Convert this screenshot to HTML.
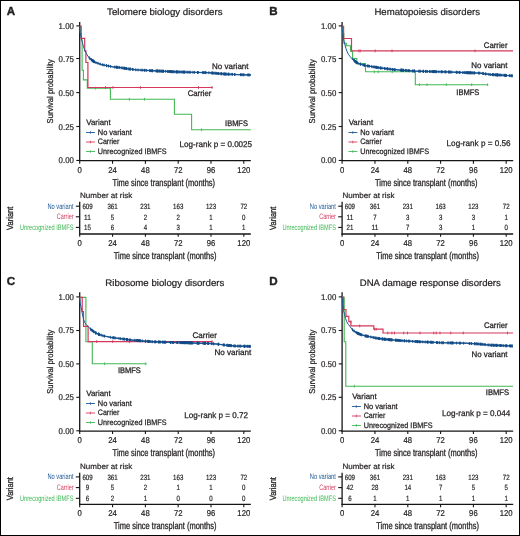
<!DOCTYPE html>
<html><head><meta charset="utf-8"><style>
html,body{margin:0;padding:0;background:#fff;}
svg{will-change:transform;}
text{text-rendering:geometricPrecision;}
svg{display:block;}
text{font-family:"Liberation Sans", sans-serif;}
</style></head><body>
<svg width="520" height="536" viewBox="0 0 520 536" fill="#231f20">
<rect x="0.5" y="0.5" width="519" height="535" fill="#fff" stroke="#000" stroke-width="1"/>
<g transform="translate(0,0)">
<text x="6.80" y="14.90" font-size="11.6" font-weight="bold" stroke="#231f20" stroke-width="0.4">A</text>
<text x="164.80" y="15.30" font-size="9.4" text-anchor="middle" textLength="115.5" lengthAdjust="spacingAndGlyphs" stroke="#231f20" stroke-width="0.22">Telomere biology disorders</text>
<line x1="79.70" y1="21.90" x2="79.70" y2="161.00" stroke="#151515" stroke-width="1.3"/>
<line x1="76.30" y1="25.90" x2="79.70" y2="25.90" stroke="#151515" stroke-width="1.1"/>
<text x="73.90" y="28.90" font-size="8.4" text-anchor="end" textLength="15.3" lengthAdjust="spacingAndGlyphs" stroke="#231f20" stroke-width="0.2">1.00</text>
<line x1="76.30" y1="58.50" x2="79.70" y2="58.50" stroke="#151515" stroke-width="1.1"/>
<text x="73.90" y="61.50" font-size="8.4" text-anchor="end" textLength="15.3" lengthAdjust="spacingAndGlyphs" stroke="#231f20" stroke-width="0.2">0.75</text>
<line x1="76.30" y1="92.60" x2="79.70" y2="92.60" stroke="#151515" stroke-width="1.1"/>
<text x="73.90" y="95.60" font-size="8.4" text-anchor="end" textLength="15.3" lengthAdjust="spacingAndGlyphs" stroke="#231f20" stroke-width="0.2">0.50</text>
<line x1="76.30" y1="126.50" x2="79.70" y2="126.50" stroke="#151515" stroke-width="1.1"/>
<text x="73.90" y="129.50" font-size="8.4" text-anchor="end" textLength="15.3" lengthAdjust="spacingAndGlyphs" stroke="#231f20" stroke-width="0.2">0.25</text>
<line x1="76.30" y1="160.45" x2="79.70" y2="160.45" stroke="#151515" stroke-width="1.1"/>
<text x="73.90" y="163.45" font-size="8.4" text-anchor="end" textLength="15.3" lengthAdjust="spacingAndGlyphs" stroke="#231f20" stroke-width="0.2">0.00</text>
<line x1="79.10" y1="160.60" x2="250.80" y2="160.60" stroke="#151515" stroke-width="1.25"/>
<line x1="79.70" y1="160.60" x2="79.70" y2="163.70" stroke="#151515" stroke-width="1.1"/>
<text x="79.70" y="172.90" font-size="8.5" text-anchor="middle" textLength="4.3" lengthAdjust="spacingAndGlyphs" stroke="#231f20" stroke-width="0.22">0</text>
<line x1="112.55" y1="160.60" x2="112.55" y2="163.70" stroke="#151515" stroke-width="1.1"/>
<text x="112.55" y="172.90" font-size="8.5" text-anchor="middle" textLength="8.6" lengthAdjust="spacingAndGlyphs" stroke="#231f20" stroke-width="0.22">24</text>
<line x1="145.40" y1="160.60" x2="145.40" y2="163.70" stroke="#151515" stroke-width="1.1"/>
<text x="145.40" y="172.90" font-size="8.5" text-anchor="middle" textLength="8.6" lengthAdjust="spacingAndGlyphs" stroke="#231f20" stroke-width="0.22">48</text>
<line x1="178.20" y1="160.60" x2="178.20" y2="163.70" stroke="#151515" stroke-width="1.1"/>
<text x="178.20" y="172.90" font-size="8.5" text-anchor="middle" textLength="8.6" lengthAdjust="spacingAndGlyphs" stroke="#231f20" stroke-width="0.22">72</text>
<line x1="211.00" y1="160.60" x2="211.00" y2="163.70" stroke="#151515" stroke-width="1.1"/>
<text x="211.00" y="172.90" font-size="8.5" text-anchor="middle" textLength="8.6" lengthAdjust="spacingAndGlyphs" stroke="#231f20" stroke-width="0.22">96</text>
<line x1="243.80" y1="160.60" x2="243.80" y2="163.70" stroke="#151515" stroke-width="1.1"/>
<text x="243.80" y="172.90" font-size="8.5" text-anchor="middle" textLength="12.9" lengthAdjust="spacingAndGlyphs" stroke="#231f20" stroke-width="0.22">120</text>
<text x="163.85" y="185.90" font-size="9.9" text-anchor="middle" textLength="102.5" lengthAdjust="spacingAndGlyphs" stroke="#231f20" stroke-width="0.3">Time since transplant (months)</text>
<text transform="translate(52.5,91.3) rotate(-90)" font-size="8.5" text-anchor="middle" textLength="64.2" lengthAdjust="spacingAndGlyphs" stroke="#231f20" stroke-width="0.25">Survival probability</text>
<text x="86.30" y="125.10" font-size="7.9" textLength="24.4" lengthAdjust="spacingAndGlyphs" stroke="#231f20" stroke-width="0.25">Variant</text>
<line x1="86.00" y1="132.50" x2="95.00" y2="132.50" stroke="#1d5895" stroke-width="0.9"/>
<line x1="90.40" y1="131.20" x2="90.40" y2="133.80" stroke="#1d5895" stroke-width="0.8"/>
<text x="97.80" y="134.80" font-size="7.9" textLength="33.9" lengthAdjust="spacingAndGlyphs" stroke="#231f20" stroke-width="0.25">No variant</text>
<line x1="86.00" y1="142.00" x2="95.00" y2="142.00" stroke="#d4385c" stroke-width="0.9"/>
<line x1="90.40" y1="140.70" x2="90.40" y2="143.30" stroke="#d4385c" stroke-width="0.8"/>
<text x="97.80" y="144.30" font-size="7.9" textLength="21.6" lengthAdjust="spacingAndGlyphs" stroke="#231f20" stroke-width="0.25">Carrier</text>
<line x1="86.00" y1="151.50" x2="95.00" y2="151.50" stroke="#40b856" stroke-width="0.9"/>
<line x1="90.40" y1="150.20" x2="90.40" y2="152.80" stroke="#40b856" stroke-width="0.8"/>
<text x="97.80" y="153.80" font-size="7.9" textLength="68.8" lengthAdjust="spacingAndGlyphs" stroke="#231f20" stroke-width="0.25">Unrecognized IBMFS</text>
<text x="215.85" y="146.80" font-size="8.3" text-anchor="middle" textLength="72.5" lengthAdjust="spacingAndGlyphs" stroke="#231f20" stroke-width="0.25">Log-rank p = 0.0025</text>
<text x="80.00" y="197.80" font-size="7.7" textLength="52.2" lengthAdjust="spacingAndGlyphs" stroke="#231f20" stroke-width="0.2">Number at risk</text>
<line x1="79.70" y1="201.80" x2="79.70" y2="234.60" stroke="#151515" stroke-width="1.3"/>
<line x1="79.10" y1="234.00" x2="250.80" y2="234.00" stroke="#151515" stroke-width="1.3"/>
<line x1="79.70" y1="234.00" x2="79.70" y2="236.80" stroke="#151515" stroke-width="1.1"/>
<text x="79.70" y="245.90" font-size="8.5" text-anchor="middle" textLength="4.3" lengthAdjust="spacingAndGlyphs" stroke="#231f20" stroke-width="0.22">0</text>
<line x1="112.55" y1="234.00" x2="112.55" y2="236.80" stroke="#151515" stroke-width="1.1"/>
<text x="112.55" y="245.90" font-size="8.5" text-anchor="middle" textLength="8.6" lengthAdjust="spacingAndGlyphs" stroke="#231f20" stroke-width="0.22">24</text>
<line x1="145.40" y1="234.00" x2="145.40" y2="236.80" stroke="#151515" stroke-width="1.1"/>
<text x="145.40" y="245.90" font-size="8.5" text-anchor="middle" textLength="8.6" lengthAdjust="spacingAndGlyphs" stroke="#231f20" stroke-width="0.22">48</text>
<line x1="178.20" y1="234.00" x2="178.20" y2="236.80" stroke="#151515" stroke-width="1.1"/>
<text x="178.20" y="245.90" font-size="8.5" text-anchor="middle" textLength="8.6" lengthAdjust="spacingAndGlyphs" stroke="#231f20" stroke-width="0.22">72</text>
<line x1="211.00" y1="234.00" x2="211.00" y2="236.80" stroke="#151515" stroke-width="1.1"/>
<text x="211.00" y="245.90" font-size="8.5" text-anchor="middle" textLength="8.6" lengthAdjust="spacingAndGlyphs" stroke="#231f20" stroke-width="0.22">96</text>
<line x1="243.80" y1="234.00" x2="243.80" y2="236.80" stroke="#151515" stroke-width="1.1"/>
<text x="243.80" y="245.90" font-size="8.5" text-anchor="middle" textLength="12.9" lengthAdjust="spacingAndGlyphs" stroke="#231f20" stroke-width="0.22">120</text>
<text x="165.15" y="258.50" font-size="9.9" text-anchor="middle" textLength="102.7" lengthAdjust="spacingAndGlyphs" stroke="#231f20" stroke-width="0.3">Time since transplant (months)</text>
<text transform="translate(13.4,218.3) rotate(-90)" font-size="9" text-anchor="middle" textLength="23.2" lengthAdjust="spacingAndGlyphs" stroke="#231f20" stroke-width="0.3">Variant</text>
<line x1="75.80" y1="206.20" x2="79.70" y2="206.20" stroke="#151515" stroke-width="1.1"/>
<text x="73.50" y="208.80" font-size="7.9" text-anchor="end" textLength="26.1" lengthAdjust="spacingAndGlyphs" fill="#1d5895">No variant</text>
<text x="87.50" y="209.00" font-size="7.6" text-anchor="middle" textLength="10.2" lengthAdjust="spacingAndGlyphs" stroke="#231f20" stroke-width="0.2">609</text>
<text x="112.55" y="209.00" font-size="7.6" text-anchor="middle" textLength="10.2" lengthAdjust="spacingAndGlyphs" stroke="#231f20" stroke-width="0.2">361</text>
<text x="145.40" y="209.00" font-size="7.6" text-anchor="middle" textLength="10.2" lengthAdjust="spacingAndGlyphs" stroke="#231f20" stroke-width="0.2">231</text>
<text x="178.20" y="209.00" font-size="7.6" text-anchor="middle" textLength="10.2" lengthAdjust="spacingAndGlyphs" stroke="#231f20" stroke-width="0.2">163</text>
<text x="211.00" y="209.00" font-size="7.6" text-anchor="middle" textLength="10.2" lengthAdjust="spacingAndGlyphs" stroke="#231f20" stroke-width="0.2">123</text>
<text x="243.80" y="209.00" font-size="7.6" text-anchor="middle" textLength="6.8" lengthAdjust="spacingAndGlyphs" stroke="#231f20" stroke-width="0.2">72</text>
<line x1="75.80" y1="216.80" x2="79.70" y2="216.80" stroke="#151515" stroke-width="1.1"/>
<text x="73.50" y="219.40" font-size="7.9" text-anchor="end" textLength="16.7" lengthAdjust="spacingAndGlyphs" fill="#d4385c">Carrier</text>
<text x="87.50" y="219.60" font-size="7.6" text-anchor="middle" textLength="6.8" lengthAdjust="spacingAndGlyphs" stroke="#231f20" stroke-width="0.2">11</text>
<text x="112.55" y="219.60" font-size="7.6" text-anchor="middle" textLength="3.4" lengthAdjust="spacingAndGlyphs" stroke="#231f20" stroke-width="0.2">5</text>
<text x="145.40" y="219.60" font-size="7.6" text-anchor="middle" textLength="3.4" lengthAdjust="spacingAndGlyphs" stroke="#231f20" stroke-width="0.2">2</text>
<text x="178.20" y="219.60" font-size="7.6" text-anchor="middle" textLength="3.4" lengthAdjust="spacingAndGlyphs" stroke="#231f20" stroke-width="0.2">2</text>
<text x="211.00" y="219.60" font-size="7.6" text-anchor="middle" textLength="3.4" lengthAdjust="spacingAndGlyphs" stroke="#231f20" stroke-width="0.2">1</text>
<text x="243.80" y="219.60" font-size="7.6" text-anchor="middle" textLength="3.4" lengthAdjust="spacingAndGlyphs" stroke="#231f20" stroke-width="0.2">0</text>
<line x1="75.80" y1="227.40" x2="79.70" y2="227.40" stroke="#151515" stroke-width="1.1"/>
<text x="73.50" y="230.00" font-size="7.9" text-anchor="end" textLength="53.5" lengthAdjust="spacingAndGlyphs" fill="#40b856">Unrecognized IBMFS</text>
<text x="87.50" y="230.20" font-size="7.6" text-anchor="middle" textLength="6.8" lengthAdjust="spacingAndGlyphs" stroke="#231f20" stroke-width="0.2">15</text>
<text x="112.55" y="230.20" font-size="7.6" text-anchor="middle" textLength="3.4" lengthAdjust="spacingAndGlyphs" stroke="#231f20" stroke-width="0.2">6</text>
<text x="145.40" y="230.20" font-size="7.6" text-anchor="middle" textLength="3.4" lengthAdjust="spacingAndGlyphs" stroke="#231f20" stroke-width="0.2">4</text>
<text x="178.20" y="230.20" font-size="7.6" text-anchor="middle" textLength="3.4" lengthAdjust="spacingAndGlyphs" stroke="#231f20" stroke-width="0.2">3</text>
<text x="211.00" y="230.20" font-size="7.6" text-anchor="middle" textLength="3.4" lengthAdjust="spacingAndGlyphs" stroke="#231f20" stroke-width="0.2">1</text>
<text x="243.80" y="230.20" font-size="7.6" text-anchor="middle" textLength="3.4" lengthAdjust="spacingAndGlyphs" stroke="#231f20" stroke-width="0.2">1</text>
</g>
<g transform="translate(262.4,0)">
<text x="6.80" y="14.90" font-size="11.6" font-weight="bold" stroke="#231f20" stroke-width="0.4">B</text>
<text x="164.80" y="15.30" font-size="9.4" text-anchor="middle" textLength="105.5" lengthAdjust="spacingAndGlyphs" stroke="#231f20" stroke-width="0.22">Hematopoiesis disorders</text>
<line x1="79.70" y1="21.90" x2="79.70" y2="161.00" stroke="#151515" stroke-width="1.3"/>
<line x1="76.30" y1="25.90" x2="79.70" y2="25.90" stroke="#151515" stroke-width="1.1"/>
<text x="73.90" y="28.90" font-size="8.4" text-anchor="end" textLength="15.3" lengthAdjust="spacingAndGlyphs" stroke="#231f20" stroke-width="0.2">1.00</text>
<line x1="76.30" y1="58.50" x2="79.70" y2="58.50" stroke="#151515" stroke-width="1.1"/>
<text x="73.90" y="61.50" font-size="8.4" text-anchor="end" textLength="15.3" lengthAdjust="spacingAndGlyphs" stroke="#231f20" stroke-width="0.2">0.75</text>
<line x1="76.30" y1="92.60" x2="79.70" y2="92.60" stroke="#151515" stroke-width="1.1"/>
<text x="73.90" y="95.60" font-size="8.4" text-anchor="end" textLength="15.3" lengthAdjust="spacingAndGlyphs" stroke="#231f20" stroke-width="0.2">0.50</text>
<line x1="76.30" y1="126.50" x2="79.70" y2="126.50" stroke="#151515" stroke-width="1.1"/>
<text x="73.90" y="129.50" font-size="8.4" text-anchor="end" textLength="15.3" lengthAdjust="spacingAndGlyphs" stroke="#231f20" stroke-width="0.2">0.25</text>
<line x1="76.30" y1="160.45" x2="79.70" y2="160.45" stroke="#151515" stroke-width="1.1"/>
<text x="73.90" y="163.45" font-size="8.4" text-anchor="end" textLength="15.3" lengthAdjust="spacingAndGlyphs" stroke="#231f20" stroke-width="0.2">0.00</text>
<line x1="79.10" y1="160.60" x2="250.80" y2="160.60" stroke="#151515" stroke-width="1.25"/>
<line x1="79.70" y1="160.60" x2="79.70" y2="163.70" stroke="#151515" stroke-width="1.1"/>
<text x="79.70" y="172.90" font-size="8.5" text-anchor="middle" textLength="4.3" lengthAdjust="spacingAndGlyphs" stroke="#231f20" stroke-width="0.22">0</text>
<line x1="112.55" y1="160.60" x2="112.55" y2="163.70" stroke="#151515" stroke-width="1.1"/>
<text x="112.55" y="172.90" font-size="8.5" text-anchor="middle" textLength="8.6" lengthAdjust="spacingAndGlyphs" stroke="#231f20" stroke-width="0.22">24</text>
<line x1="145.40" y1="160.60" x2="145.40" y2="163.70" stroke="#151515" stroke-width="1.1"/>
<text x="145.40" y="172.90" font-size="8.5" text-anchor="middle" textLength="8.6" lengthAdjust="spacingAndGlyphs" stroke="#231f20" stroke-width="0.22">48</text>
<line x1="178.20" y1="160.60" x2="178.20" y2="163.70" stroke="#151515" stroke-width="1.1"/>
<text x="178.20" y="172.90" font-size="8.5" text-anchor="middle" textLength="8.6" lengthAdjust="spacingAndGlyphs" stroke="#231f20" stroke-width="0.22">72</text>
<line x1="211.00" y1="160.60" x2="211.00" y2="163.70" stroke="#151515" stroke-width="1.1"/>
<text x="211.00" y="172.90" font-size="8.5" text-anchor="middle" textLength="8.6" lengthAdjust="spacingAndGlyphs" stroke="#231f20" stroke-width="0.22">96</text>
<line x1="243.80" y1="160.60" x2="243.80" y2="163.70" stroke="#151515" stroke-width="1.1"/>
<text x="243.80" y="172.90" font-size="8.5" text-anchor="middle" textLength="12.9" lengthAdjust="spacingAndGlyphs" stroke="#231f20" stroke-width="0.22">120</text>
<text x="163.85" y="185.90" font-size="9.9" text-anchor="middle" textLength="102.5" lengthAdjust="spacingAndGlyphs" stroke="#231f20" stroke-width="0.3">Time since transplant (months)</text>
<text transform="translate(52.5,91.3) rotate(-90)" font-size="8.5" text-anchor="middle" textLength="64.2" lengthAdjust="spacingAndGlyphs" stroke="#231f20" stroke-width="0.25">Survival probability</text>
<text x="86.30" y="125.10" font-size="7.9" textLength="24.4" lengthAdjust="spacingAndGlyphs" stroke="#231f20" stroke-width="0.25">Variant</text>
<line x1="86.00" y1="132.50" x2="95.00" y2="132.50" stroke="#1d5895" stroke-width="0.9"/>
<line x1="90.40" y1="131.20" x2="90.40" y2="133.80" stroke="#1d5895" stroke-width="0.8"/>
<text x="97.80" y="134.80" font-size="7.9" textLength="33.9" lengthAdjust="spacingAndGlyphs" stroke="#231f20" stroke-width="0.25">No variant</text>
<line x1="86.00" y1="142.00" x2="95.00" y2="142.00" stroke="#d4385c" stroke-width="0.9"/>
<line x1="90.40" y1="140.70" x2="90.40" y2="143.30" stroke="#d4385c" stroke-width="0.8"/>
<text x="97.80" y="144.30" font-size="7.9" textLength="21.6" lengthAdjust="spacingAndGlyphs" stroke="#231f20" stroke-width="0.25">Carrier</text>
<line x1="86.00" y1="151.50" x2="95.00" y2="151.50" stroke="#40b856" stroke-width="0.9"/>
<line x1="90.40" y1="150.20" x2="90.40" y2="152.80" stroke="#40b856" stroke-width="0.8"/>
<text x="97.80" y="153.80" font-size="7.9" textLength="68.8" lengthAdjust="spacingAndGlyphs" stroke="#231f20" stroke-width="0.25">Unrecognized IBMFS</text>
<text x="216.20" y="146.40" font-size="8.3" text-anchor="middle" textLength="64.0" lengthAdjust="spacingAndGlyphs" stroke="#231f20" stroke-width="0.25">Log-rank p = 0.56</text>
<text x="80.00" y="197.80" font-size="7.7" textLength="52.2" lengthAdjust="spacingAndGlyphs" stroke="#231f20" stroke-width="0.2">Number at risk</text>
<line x1="79.70" y1="201.80" x2="79.70" y2="234.60" stroke="#151515" stroke-width="1.3"/>
<line x1="79.10" y1="234.00" x2="250.80" y2="234.00" stroke="#151515" stroke-width="1.3"/>
<line x1="79.70" y1="234.00" x2="79.70" y2="236.80" stroke="#151515" stroke-width="1.1"/>
<text x="79.70" y="245.90" font-size="8.5" text-anchor="middle" textLength="4.3" lengthAdjust="spacingAndGlyphs" stroke="#231f20" stroke-width="0.22">0</text>
<line x1="112.55" y1="234.00" x2="112.55" y2="236.80" stroke="#151515" stroke-width="1.1"/>
<text x="112.55" y="245.90" font-size="8.5" text-anchor="middle" textLength="8.6" lengthAdjust="spacingAndGlyphs" stroke="#231f20" stroke-width="0.22">24</text>
<line x1="145.40" y1="234.00" x2="145.40" y2="236.80" stroke="#151515" stroke-width="1.1"/>
<text x="145.40" y="245.90" font-size="8.5" text-anchor="middle" textLength="8.6" lengthAdjust="spacingAndGlyphs" stroke="#231f20" stroke-width="0.22">48</text>
<line x1="178.20" y1="234.00" x2="178.20" y2="236.80" stroke="#151515" stroke-width="1.1"/>
<text x="178.20" y="245.90" font-size="8.5" text-anchor="middle" textLength="8.6" lengthAdjust="spacingAndGlyphs" stroke="#231f20" stroke-width="0.22">72</text>
<line x1="211.00" y1="234.00" x2="211.00" y2="236.80" stroke="#151515" stroke-width="1.1"/>
<text x="211.00" y="245.90" font-size="8.5" text-anchor="middle" textLength="8.6" lengthAdjust="spacingAndGlyphs" stroke="#231f20" stroke-width="0.22">96</text>
<line x1="243.80" y1="234.00" x2="243.80" y2="236.80" stroke="#151515" stroke-width="1.1"/>
<text x="243.80" y="245.90" font-size="8.5" text-anchor="middle" textLength="12.9" lengthAdjust="spacingAndGlyphs" stroke="#231f20" stroke-width="0.22">120</text>
<text x="165.15" y="258.50" font-size="9.9" text-anchor="middle" textLength="102.7" lengthAdjust="spacingAndGlyphs" stroke="#231f20" stroke-width="0.3">Time since transplant (months)</text>
<text transform="translate(13.4,218.3) rotate(-90)" font-size="9" text-anchor="middle" textLength="23.2" lengthAdjust="spacingAndGlyphs" stroke="#231f20" stroke-width="0.3">Variant</text>
<line x1="75.80" y1="206.20" x2="79.70" y2="206.20" stroke="#151515" stroke-width="1.1"/>
<text x="73.50" y="208.80" font-size="7.9" text-anchor="end" textLength="26.1" lengthAdjust="spacingAndGlyphs" fill="#1d5895">No variant</text>
<text x="87.50" y="209.00" font-size="7.6" text-anchor="middle" textLength="10.2" lengthAdjust="spacingAndGlyphs" stroke="#231f20" stroke-width="0.2">609</text>
<text x="112.55" y="209.00" font-size="7.6" text-anchor="middle" textLength="10.2" lengthAdjust="spacingAndGlyphs" stroke="#231f20" stroke-width="0.2">361</text>
<text x="145.40" y="209.00" font-size="7.6" text-anchor="middle" textLength="10.2" lengthAdjust="spacingAndGlyphs" stroke="#231f20" stroke-width="0.2">231</text>
<text x="178.20" y="209.00" font-size="7.6" text-anchor="middle" textLength="10.2" lengthAdjust="spacingAndGlyphs" stroke="#231f20" stroke-width="0.2">163</text>
<text x="211.00" y="209.00" font-size="7.6" text-anchor="middle" textLength="10.2" lengthAdjust="spacingAndGlyphs" stroke="#231f20" stroke-width="0.2">123</text>
<text x="243.80" y="209.00" font-size="7.6" text-anchor="middle" textLength="6.8" lengthAdjust="spacingAndGlyphs" stroke="#231f20" stroke-width="0.2">72</text>
<line x1="75.80" y1="216.80" x2="79.70" y2="216.80" stroke="#151515" stroke-width="1.1"/>
<text x="73.50" y="219.40" font-size="7.9" text-anchor="end" textLength="16.7" lengthAdjust="spacingAndGlyphs" fill="#d4385c">Carrier</text>
<text x="87.50" y="219.60" font-size="7.6" text-anchor="middle" textLength="6.8" lengthAdjust="spacingAndGlyphs" stroke="#231f20" stroke-width="0.2">11</text>
<text x="112.55" y="219.60" font-size="7.6" text-anchor="middle" textLength="3.4" lengthAdjust="spacingAndGlyphs" stroke="#231f20" stroke-width="0.2">7</text>
<text x="145.40" y="219.60" font-size="7.6" text-anchor="middle" textLength="3.4" lengthAdjust="spacingAndGlyphs" stroke="#231f20" stroke-width="0.2">3</text>
<text x="178.20" y="219.60" font-size="7.6" text-anchor="middle" textLength="3.4" lengthAdjust="spacingAndGlyphs" stroke="#231f20" stroke-width="0.2">3</text>
<text x="211.00" y="219.60" font-size="7.6" text-anchor="middle" textLength="3.4" lengthAdjust="spacingAndGlyphs" stroke="#231f20" stroke-width="0.2">3</text>
<text x="243.80" y="219.60" font-size="7.6" text-anchor="middle" textLength="3.4" lengthAdjust="spacingAndGlyphs" stroke="#231f20" stroke-width="0.2">1</text>
<line x1="75.80" y1="227.40" x2="79.70" y2="227.40" stroke="#151515" stroke-width="1.1"/>
<text x="73.50" y="230.00" font-size="7.9" text-anchor="end" textLength="53.5" lengthAdjust="spacingAndGlyphs" fill="#40b856">Unrecognized IBMFS</text>
<text x="87.50" y="230.20" font-size="7.6" text-anchor="middle" textLength="6.8" lengthAdjust="spacingAndGlyphs" stroke="#231f20" stroke-width="0.2">21</text>
<text x="112.55" y="230.20" font-size="7.6" text-anchor="middle" textLength="6.8" lengthAdjust="spacingAndGlyphs" stroke="#231f20" stroke-width="0.2">11</text>
<text x="145.40" y="230.20" font-size="7.6" text-anchor="middle" textLength="3.4" lengthAdjust="spacingAndGlyphs" stroke="#231f20" stroke-width="0.2">7</text>
<text x="178.20" y="230.20" font-size="7.6" text-anchor="middle" textLength="3.4" lengthAdjust="spacingAndGlyphs" stroke="#231f20" stroke-width="0.2">3</text>
<text x="211.00" y="230.20" font-size="7.6" text-anchor="middle" textLength="3.4" lengthAdjust="spacingAndGlyphs" stroke="#231f20" stroke-width="0.2">1</text>
<text x="243.80" y="230.20" font-size="7.6" text-anchor="middle" textLength="3.4" lengthAdjust="spacingAndGlyphs" stroke="#231f20" stroke-width="0.2">0</text>
</g>
<g transform="translate(0,270.4)">
<text x="6.80" y="14.90" font-size="11.6" font-weight="bold" stroke="#231f20" stroke-width="0.4">C</text>
<text x="164.80" y="15.30" font-size="9.4" text-anchor="middle" textLength="119.0" lengthAdjust="spacingAndGlyphs" stroke="#231f20" stroke-width="0.22">Ribosome biology disorders</text>
<line x1="79.70" y1="21.90" x2="79.70" y2="161.00" stroke="#151515" stroke-width="1.3"/>
<line x1="76.30" y1="26.50" x2="79.70" y2="26.50" stroke="#151515" stroke-width="1.1"/>
<text x="73.90" y="29.50" font-size="8.4" text-anchor="end" textLength="15.3" lengthAdjust="spacingAndGlyphs" stroke="#231f20" stroke-width="0.2">1.00</text>
<line x1="76.30" y1="60.10" x2="79.70" y2="60.10" stroke="#151515" stroke-width="1.1"/>
<text x="73.90" y="63.10" font-size="8.4" text-anchor="end" textLength="15.3" lengthAdjust="spacingAndGlyphs" stroke="#231f20" stroke-width="0.2">0.75</text>
<line x1="76.30" y1="93.50" x2="79.70" y2="93.50" stroke="#151515" stroke-width="1.1"/>
<text x="73.90" y="96.50" font-size="8.4" text-anchor="end" textLength="15.3" lengthAdjust="spacingAndGlyphs" stroke="#231f20" stroke-width="0.2">0.50</text>
<line x1="76.30" y1="126.90" x2="79.70" y2="126.90" stroke="#151515" stroke-width="1.1"/>
<text x="73.90" y="129.90" font-size="8.4" text-anchor="end" textLength="15.3" lengthAdjust="spacingAndGlyphs" stroke="#231f20" stroke-width="0.2">0.25</text>
<line x1="76.30" y1="160.40" x2="79.70" y2="160.40" stroke="#151515" stroke-width="1.1"/>
<text x="73.90" y="163.40" font-size="8.4" text-anchor="end" textLength="15.3" lengthAdjust="spacingAndGlyphs" stroke="#231f20" stroke-width="0.2">0.00</text>
<line x1="79.10" y1="160.60" x2="250.80" y2="160.60" stroke="#151515" stroke-width="1.25"/>
<line x1="79.70" y1="160.60" x2="79.70" y2="163.70" stroke="#151515" stroke-width="1.1"/>
<text x="79.70" y="172.90" font-size="8.5" text-anchor="middle" textLength="4.3" lengthAdjust="spacingAndGlyphs" stroke="#231f20" stroke-width="0.22">0</text>
<line x1="112.55" y1="160.60" x2="112.55" y2="163.70" stroke="#151515" stroke-width="1.1"/>
<text x="112.55" y="172.90" font-size="8.5" text-anchor="middle" textLength="8.6" lengthAdjust="spacingAndGlyphs" stroke="#231f20" stroke-width="0.22">24</text>
<line x1="145.40" y1="160.60" x2="145.40" y2="163.70" stroke="#151515" stroke-width="1.1"/>
<text x="145.40" y="172.90" font-size="8.5" text-anchor="middle" textLength="8.6" lengthAdjust="spacingAndGlyphs" stroke="#231f20" stroke-width="0.22">48</text>
<line x1="178.20" y1="160.60" x2="178.20" y2="163.70" stroke="#151515" stroke-width="1.1"/>
<text x="178.20" y="172.90" font-size="8.5" text-anchor="middle" textLength="8.6" lengthAdjust="spacingAndGlyphs" stroke="#231f20" stroke-width="0.22">72</text>
<line x1="211.00" y1="160.60" x2="211.00" y2="163.70" stroke="#151515" stroke-width="1.1"/>
<text x="211.00" y="172.90" font-size="8.5" text-anchor="middle" textLength="8.6" lengthAdjust="spacingAndGlyphs" stroke="#231f20" stroke-width="0.22">96</text>
<line x1="243.80" y1="160.60" x2="243.80" y2="163.70" stroke="#151515" stroke-width="1.1"/>
<text x="243.80" y="172.90" font-size="8.5" text-anchor="middle" textLength="12.9" lengthAdjust="spacingAndGlyphs" stroke="#231f20" stroke-width="0.22">120</text>
<text x="163.85" y="185.90" font-size="9.9" text-anchor="middle" textLength="102.5" lengthAdjust="spacingAndGlyphs" stroke="#231f20" stroke-width="0.3">Time since transplant (months)</text>
<text transform="translate(52.5,91.3) rotate(-90)" font-size="8.5" text-anchor="middle" textLength="64.2" lengthAdjust="spacingAndGlyphs" stroke="#231f20" stroke-width="0.25">Survival probability</text>
<text x="86.30" y="125.70" font-size="7.9" textLength="24.4" lengthAdjust="spacingAndGlyphs" stroke="#231f20" stroke-width="0.25">Variant</text>
<line x1="86.00" y1="133.10" x2="95.00" y2="133.10" stroke="#1d5895" stroke-width="0.9"/>
<line x1="90.40" y1="131.80" x2="90.40" y2="134.40" stroke="#1d5895" stroke-width="0.8"/>
<text x="97.80" y="135.40" font-size="7.9" textLength="33.9" lengthAdjust="spacingAndGlyphs" stroke="#231f20" stroke-width="0.25">No variant</text>
<line x1="86.00" y1="142.60" x2="95.00" y2="142.60" stroke="#d4385c" stroke-width="0.9"/>
<line x1="90.40" y1="141.30" x2="90.40" y2="143.90" stroke="#d4385c" stroke-width="0.8"/>
<text x="97.80" y="144.90" font-size="7.9" textLength="21.6" lengthAdjust="spacingAndGlyphs" stroke="#231f20" stroke-width="0.25">Carrier</text>
<line x1="86.00" y1="152.10" x2="95.00" y2="152.10" stroke="#40b856" stroke-width="0.9"/>
<line x1="90.40" y1="150.80" x2="90.40" y2="153.40" stroke="#40b856" stroke-width="0.8"/>
<text x="97.80" y="154.40" font-size="7.9" textLength="68.8" lengthAdjust="spacingAndGlyphs" stroke="#231f20" stroke-width="0.25">Unrecognized IBMFS</text>
<text x="216.15" y="147.20" font-size="8.3" text-anchor="middle" textLength="63.7" lengthAdjust="spacingAndGlyphs" stroke="#231f20" stroke-width="0.25">Log-rank p = 0.72</text>
<text x="80.00" y="198.25" font-size="7.7" textLength="52.2" lengthAdjust="spacingAndGlyphs" stroke="#231f20" stroke-width="0.2">Number at risk</text>
<line x1="79.70" y1="202.25" x2="79.70" y2="234.60" stroke="#151515" stroke-width="1.3"/>
<line x1="79.10" y1="234.00" x2="250.80" y2="234.00" stroke="#151515" stroke-width="1.3"/>
<line x1="79.70" y1="234.00" x2="79.70" y2="236.80" stroke="#151515" stroke-width="1.1"/>
<text x="79.70" y="245.90" font-size="8.5" text-anchor="middle" textLength="4.3" lengthAdjust="spacingAndGlyphs" stroke="#231f20" stroke-width="0.22">0</text>
<line x1="112.55" y1="234.00" x2="112.55" y2="236.80" stroke="#151515" stroke-width="1.1"/>
<text x="112.55" y="245.90" font-size="8.5" text-anchor="middle" textLength="8.6" lengthAdjust="spacingAndGlyphs" stroke="#231f20" stroke-width="0.22">24</text>
<line x1="145.40" y1="234.00" x2="145.40" y2="236.80" stroke="#151515" stroke-width="1.1"/>
<text x="145.40" y="245.90" font-size="8.5" text-anchor="middle" textLength="8.6" lengthAdjust="spacingAndGlyphs" stroke="#231f20" stroke-width="0.22">48</text>
<line x1="178.20" y1="234.00" x2="178.20" y2="236.80" stroke="#151515" stroke-width="1.1"/>
<text x="178.20" y="245.90" font-size="8.5" text-anchor="middle" textLength="8.6" lengthAdjust="spacingAndGlyphs" stroke="#231f20" stroke-width="0.22">72</text>
<line x1="211.00" y1="234.00" x2="211.00" y2="236.80" stroke="#151515" stroke-width="1.1"/>
<text x="211.00" y="245.90" font-size="8.5" text-anchor="middle" textLength="8.6" lengthAdjust="spacingAndGlyphs" stroke="#231f20" stroke-width="0.22">96</text>
<line x1="243.80" y1="234.00" x2="243.80" y2="236.80" stroke="#151515" stroke-width="1.1"/>
<text x="243.80" y="245.90" font-size="8.5" text-anchor="middle" textLength="12.9" lengthAdjust="spacingAndGlyphs" stroke="#231f20" stroke-width="0.22">120</text>
<text x="165.15" y="258.50" font-size="9.9" text-anchor="middle" textLength="102.7" lengthAdjust="spacingAndGlyphs" stroke="#231f20" stroke-width="0.3">Time since transplant (months)</text>
<text transform="translate(13.4,218.3) rotate(-90)" font-size="9" text-anchor="middle" textLength="23.2" lengthAdjust="spacingAndGlyphs" stroke="#231f20" stroke-width="0.3">Variant</text>
<line x1="75.80" y1="206.50" x2="79.70" y2="206.50" stroke="#151515" stroke-width="1.1"/>
<text x="73.50" y="209.10" font-size="7.9" text-anchor="end" textLength="26.1" lengthAdjust="spacingAndGlyphs" fill="#1d5895">No variant</text>
<text x="87.50" y="209.30" font-size="7.6" text-anchor="middle" textLength="10.2" lengthAdjust="spacingAndGlyphs" stroke="#231f20" stroke-width="0.2">609</text>
<text x="112.55" y="209.30" font-size="7.6" text-anchor="middle" textLength="10.2" lengthAdjust="spacingAndGlyphs" stroke="#231f20" stroke-width="0.2">361</text>
<text x="145.40" y="209.30" font-size="7.6" text-anchor="middle" textLength="10.2" lengthAdjust="spacingAndGlyphs" stroke="#231f20" stroke-width="0.2">231</text>
<text x="178.20" y="209.30" font-size="7.6" text-anchor="middle" textLength="10.2" lengthAdjust="spacingAndGlyphs" stroke="#231f20" stroke-width="0.2">163</text>
<text x="211.00" y="209.30" font-size="7.6" text-anchor="middle" textLength="10.2" lengthAdjust="spacingAndGlyphs" stroke="#231f20" stroke-width="0.2">123</text>
<text x="243.80" y="209.30" font-size="7.6" text-anchor="middle" textLength="6.8" lengthAdjust="spacingAndGlyphs" stroke="#231f20" stroke-width="0.2">72</text>
<line x1="75.80" y1="217.20" x2="79.70" y2="217.20" stroke="#151515" stroke-width="1.1"/>
<text x="73.50" y="219.80" font-size="7.9" text-anchor="end" textLength="16.7" lengthAdjust="spacingAndGlyphs" fill="#d4385c">Carrier</text>
<text x="87.50" y="220.00" font-size="7.6" text-anchor="middle" textLength="3.4" lengthAdjust="spacingAndGlyphs" stroke="#231f20" stroke-width="0.2">9</text>
<text x="112.55" y="220.00" font-size="7.6" text-anchor="middle" textLength="3.4" lengthAdjust="spacingAndGlyphs" stroke="#231f20" stroke-width="0.2">5</text>
<text x="145.40" y="220.00" font-size="7.6" text-anchor="middle" textLength="3.4" lengthAdjust="spacingAndGlyphs" stroke="#231f20" stroke-width="0.2">2</text>
<text x="178.20" y="220.00" font-size="7.6" text-anchor="middle" textLength="3.4" lengthAdjust="spacingAndGlyphs" stroke="#231f20" stroke-width="0.2">1</text>
<text x="211.00" y="220.00" font-size="7.6" text-anchor="middle" textLength="3.4" lengthAdjust="spacingAndGlyphs" stroke="#231f20" stroke-width="0.2">1</text>
<text x="243.80" y="220.00" font-size="7.6" text-anchor="middle" textLength="3.4" lengthAdjust="spacingAndGlyphs" stroke="#231f20" stroke-width="0.2">0</text>
<line x1="75.80" y1="227.90" x2="79.70" y2="227.90" stroke="#151515" stroke-width="1.1"/>
<text x="73.50" y="230.50" font-size="7.9" text-anchor="end" textLength="53.5" lengthAdjust="spacingAndGlyphs" fill="#40b856">Unrecognized IBMFS</text>
<text x="87.50" y="230.70" font-size="7.6" text-anchor="middle" textLength="3.4" lengthAdjust="spacingAndGlyphs" stroke="#231f20" stroke-width="0.2">6</text>
<text x="112.55" y="230.70" font-size="7.6" text-anchor="middle" textLength="3.4" lengthAdjust="spacingAndGlyphs" stroke="#231f20" stroke-width="0.2">2</text>
<text x="145.40" y="230.70" font-size="7.6" text-anchor="middle" textLength="3.4" lengthAdjust="spacingAndGlyphs" stroke="#231f20" stroke-width="0.2">1</text>
<text x="178.20" y="230.70" font-size="7.6" text-anchor="middle" textLength="3.4" lengthAdjust="spacingAndGlyphs" stroke="#231f20" stroke-width="0.2">0</text>
<text x="211.00" y="230.70" font-size="7.6" text-anchor="middle" textLength="3.4" lengthAdjust="spacingAndGlyphs" stroke="#231f20" stroke-width="0.2">0</text>
<text x="243.80" y="230.70" font-size="7.6" text-anchor="middle" textLength="3.4" lengthAdjust="spacingAndGlyphs" stroke="#231f20" stroke-width="0.2">0</text>
</g>
<g transform="translate(262.4,270.4)">
<text x="6.80" y="14.90" font-size="11.6" font-weight="bold" stroke="#231f20" stroke-width="0.4">D</text>
<text x="167.90" y="15.30" font-size="9.4" text-anchor="middle" textLength="141.0" lengthAdjust="spacingAndGlyphs" stroke="#231f20" stroke-width="0.22">DNA damage response disorders</text>
<line x1="79.70" y1="21.90" x2="79.70" y2="161.00" stroke="#151515" stroke-width="1.3"/>
<line x1="76.30" y1="26.50" x2="79.70" y2="26.50" stroke="#151515" stroke-width="1.1"/>
<text x="73.90" y="29.50" font-size="8.4" text-anchor="end" textLength="15.3" lengthAdjust="spacingAndGlyphs" stroke="#231f20" stroke-width="0.2">1.00</text>
<line x1="76.30" y1="60.10" x2="79.70" y2="60.10" stroke="#151515" stroke-width="1.1"/>
<text x="73.90" y="63.10" font-size="8.4" text-anchor="end" textLength="15.3" lengthAdjust="spacingAndGlyphs" stroke="#231f20" stroke-width="0.2">0.75</text>
<line x1="76.30" y1="93.50" x2="79.70" y2="93.50" stroke="#151515" stroke-width="1.1"/>
<text x="73.90" y="96.50" font-size="8.4" text-anchor="end" textLength="15.3" lengthAdjust="spacingAndGlyphs" stroke="#231f20" stroke-width="0.2">0.50</text>
<line x1="76.30" y1="126.90" x2="79.70" y2="126.90" stroke="#151515" stroke-width="1.1"/>
<text x="73.90" y="129.90" font-size="8.4" text-anchor="end" textLength="15.3" lengthAdjust="spacingAndGlyphs" stroke="#231f20" stroke-width="0.2">0.25</text>
<line x1="76.30" y1="160.40" x2="79.70" y2="160.40" stroke="#151515" stroke-width="1.1"/>
<text x="73.90" y="163.40" font-size="8.4" text-anchor="end" textLength="15.3" lengthAdjust="spacingAndGlyphs" stroke="#231f20" stroke-width="0.2">0.00</text>
<line x1="79.10" y1="160.60" x2="250.80" y2="160.60" stroke="#151515" stroke-width="1.25"/>
<line x1="79.70" y1="160.60" x2="79.70" y2="163.70" stroke="#151515" stroke-width="1.1"/>
<text x="79.70" y="172.90" font-size="8.5" text-anchor="middle" textLength="4.3" lengthAdjust="spacingAndGlyphs" stroke="#231f20" stroke-width="0.22">0</text>
<line x1="112.55" y1="160.60" x2="112.55" y2="163.70" stroke="#151515" stroke-width="1.1"/>
<text x="112.55" y="172.90" font-size="8.5" text-anchor="middle" textLength="8.6" lengthAdjust="spacingAndGlyphs" stroke="#231f20" stroke-width="0.22">24</text>
<line x1="145.40" y1="160.60" x2="145.40" y2="163.70" stroke="#151515" stroke-width="1.1"/>
<text x="145.40" y="172.90" font-size="8.5" text-anchor="middle" textLength="8.6" lengthAdjust="spacingAndGlyphs" stroke="#231f20" stroke-width="0.22">48</text>
<line x1="178.20" y1="160.60" x2="178.20" y2="163.70" stroke="#151515" stroke-width="1.1"/>
<text x="178.20" y="172.90" font-size="8.5" text-anchor="middle" textLength="8.6" lengthAdjust="spacingAndGlyphs" stroke="#231f20" stroke-width="0.22">72</text>
<line x1="211.00" y1="160.60" x2="211.00" y2="163.70" stroke="#151515" stroke-width="1.1"/>
<text x="211.00" y="172.90" font-size="8.5" text-anchor="middle" textLength="8.6" lengthAdjust="spacingAndGlyphs" stroke="#231f20" stroke-width="0.22">96</text>
<line x1="243.80" y1="160.60" x2="243.80" y2="163.70" stroke="#151515" stroke-width="1.1"/>
<text x="243.80" y="172.90" font-size="8.5" text-anchor="middle" textLength="12.9" lengthAdjust="spacingAndGlyphs" stroke="#231f20" stroke-width="0.22">120</text>
<text x="163.85" y="185.90" font-size="9.9" text-anchor="middle" textLength="102.5" lengthAdjust="spacingAndGlyphs" stroke="#231f20" stroke-width="0.3">Time since transplant (months)</text>
<text transform="translate(52.5,91.3) rotate(-90)" font-size="8.5" text-anchor="middle" textLength="64.2" lengthAdjust="spacingAndGlyphs" stroke="#231f20" stroke-width="0.25">Survival probability</text>
<text x="89.80" y="128.70" font-size="7.9" textLength="24.4" lengthAdjust="spacingAndGlyphs" stroke="#231f20" stroke-width="0.25">Variant</text>
<line x1="89.50" y1="136.10" x2="98.50" y2="136.10" stroke="#1d5895" stroke-width="0.9"/>
<line x1="93.90" y1="134.80" x2="93.90" y2="137.40" stroke="#1d5895" stroke-width="0.8"/>
<text x="101.30" y="138.40" font-size="7.9" textLength="33.9" lengthAdjust="spacingAndGlyphs" stroke="#231f20" stroke-width="0.25">No variant</text>
<line x1="89.50" y1="145.60" x2="98.50" y2="145.60" stroke="#d4385c" stroke-width="0.9"/>
<line x1="93.90" y1="144.30" x2="93.90" y2="146.90" stroke="#d4385c" stroke-width="0.8"/>
<text x="101.30" y="147.90" font-size="7.9" textLength="21.6" lengthAdjust="spacingAndGlyphs" stroke="#231f20" stroke-width="0.25">Carrier</text>
<line x1="89.50" y1="155.10" x2="98.50" y2="155.10" stroke="#40b856" stroke-width="0.9"/>
<line x1="93.90" y1="153.80" x2="93.90" y2="156.40" stroke="#40b856" stroke-width="0.8"/>
<text x="101.30" y="157.40" font-size="7.9" textLength="68.8" lengthAdjust="spacingAndGlyphs" stroke="#231f20" stroke-width="0.25">Unrecognized IBMFS</text>
<text x="213.80" y="145.80" font-size="8.3" text-anchor="middle" textLength="68.3" lengthAdjust="spacingAndGlyphs" stroke="#231f20" stroke-width="0.25">Log-rank p = 0.044</text>
<text x="80.00" y="198.25" font-size="7.7" textLength="52.2" lengthAdjust="spacingAndGlyphs" stroke="#231f20" stroke-width="0.2">Number at risk</text>
<line x1="79.70" y1="202.25" x2="79.70" y2="234.60" stroke="#151515" stroke-width="1.3"/>
<line x1="79.10" y1="234.00" x2="250.80" y2="234.00" stroke="#151515" stroke-width="1.3"/>
<line x1="79.70" y1="234.00" x2="79.70" y2="236.80" stroke="#151515" stroke-width="1.1"/>
<text x="79.70" y="245.90" font-size="8.5" text-anchor="middle" textLength="4.3" lengthAdjust="spacingAndGlyphs" stroke="#231f20" stroke-width="0.22">0</text>
<line x1="112.55" y1="234.00" x2="112.55" y2="236.80" stroke="#151515" stroke-width="1.1"/>
<text x="112.55" y="245.90" font-size="8.5" text-anchor="middle" textLength="8.6" lengthAdjust="spacingAndGlyphs" stroke="#231f20" stroke-width="0.22">24</text>
<line x1="145.40" y1="234.00" x2="145.40" y2="236.80" stroke="#151515" stroke-width="1.1"/>
<text x="145.40" y="245.90" font-size="8.5" text-anchor="middle" textLength="8.6" lengthAdjust="spacingAndGlyphs" stroke="#231f20" stroke-width="0.22">48</text>
<line x1="178.20" y1="234.00" x2="178.20" y2="236.80" stroke="#151515" stroke-width="1.1"/>
<text x="178.20" y="245.90" font-size="8.5" text-anchor="middle" textLength="8.6" lengthAdjust="spacingAndGlyphs" stroke="#231f20" stroke-width="0.22">72</text>
<line x1="211.00" y1="234.00" x2="211.00" y2="236.80" stroke="#151515" stroke-width="1.1"/>
<text x="211.00" y="245.90" font-size="8.5" text-anchor="middle" textLength="8.6" lengthAdjust="spacingAndGlyphs" stroke="#231f20" stroke-width="0.22">96</text>
<line x1="243.80" y1="234.00" x2="243.80" y2="236.80" stroke="#151515" stroke-width="1.1"/>
<text x="243.80" y="245.90" font-size="8.5" text-anchor="middle" textLength="12.9" lengthAdjust="spacingAndGlyphs" stroke="#231f20" stroke-width="0.22">120</text>
<text x="165.15" y="258.50" font-size="9.9" text-anchor="middle" textLength="102.7" lengthAdjust="spacingAndGlyphs" stroke="#231f20" stroke-width="0.3">Time since transplant (months)</text>
<text transform="translate(13.4,218.3) rotate(-90)" font-size="9" text-anchor="middle" textLength="23.2" lengthAdjust="spacingAndGlyphs" stroke="#231f20" stroke-width="0.3">Variant</text>
<line x1="75.80" y1="206.50" x2="79.70" y2="206.50" stroke="#151515" stroke-width="1.1"/>
<text x="73.50" y="209.10" font-size="7.9" text-anchor="end" textLength="26.1" lengthAdjust="spacingAndGlyphs" fill="#1d5895">No variant</text>
<text x="87.50" y="209.30" font-size="7.6" text-anchor="middle" textLength="10.2" lengthAdjust="spacingAndGlyphs" stroke="#231f20" stroke-width="0.2">609</text>
<text x="112.55" y="209.30" font-size="7.6" text-anchor="middle" textLength="10.2" lengthAdjust="spacingAndGlyphs" stroke="#231f20" stroke-width="0.2">361</text>
<text x="145.40" y="209.30" font-size="7.6" text-anchor="middle" textLength="10.2" lengthAdjust="spacingAndGlyphs" stroke="#231f20" stroke-width="0.2">231</text>
<text x="178.20" y="209.30" font-size="7.6" text-anchor="middle" textLength="10.2" lengthAdjust="spacingAndGlyphs" stroke="#231f20" stroke-width="0.2">163</text>
<text x="211.00" y="209.30" font-size="7.6" text-anchor="middle" textLength="10.2" lengthAdjust="spacingAndGlyphs" stroke="#231f20" stroke-width="0.2">123</text>
<text x="243.80" y="209.30" font-size="7.6" text-anchor="middle" textLength="6.8" lengthAdjust="spacingAndGlyphs" stroke="#231f20" stroke-width="0.2">72</text>
<line x1="75.80" y1="217.20" x2="79.70" y2="217.20" stroke="#151515" stroke-width="1.1"/>
<text x="73.50" y="219.80" font-size="7.9" text-anchor="end" textLength="16.7" lengthAdjust="spacingAndGlyphs" fill="#d4385c">Carrier</text>
<text x="87.50" y="220.00" font-size="7.6" text-anchor="middle" textLength="6.8" lengthAdjust="spacingAndGlyphs" stroke="#231f20" stroke-width="0.2">42</text>
<text x="112.55" y="220.00" font-size="7.6" text-anchor="middle" textLength="6.8" lengthAdjust="spacingAndGlyphs" stroke="#231f20" stroke-width="0.2">28</text>
<text x="145.40" y="220.00" font-size="7.6" text-anchor="middle" textLength="6.8" lengthAdjust="spacingAndGlyphs" stroke="#231f20" stroke-width="0.2">14</text>
<text x="178.20" y="220.00" font-size="7.6" text-anchor="middle" textLength="3.4" lengthAdjust="spacingAndGlyphs" stroke="#231f20" stroke-width="0.2">7</text>
<text x="211.00" y="220.00" font-size="7.6" text-anchor="middle" textLength="3.4" lengthAdjust="spacingAndGlyphs" stroke="#231f20" stroke-width="0.2">5</text>
<text x="243.80" y="220.00" font-size="7.6" text-anchor="middle" textLength="3.4" lengthAdjust="spacingAndGlyphs" stroke="#231f20" stroke-width="0.2">5</text>
<line x1="75.80" y1="227.90" x2="79.70" y2="227.90" stroke="#151515" stroke-width="1.1"/>
<text x="73.50" y="230.50" font-size="7.9" text-anchor="end" textLength="53.5" lengthAdjust="spacingAndGlyphs" fill="#40b856">Unrecognized IBMFS</text>
<text x="87.50" y="230.70" font-size="7.6" text-anchor="middle" textLength="3.4" lengthAdjust="spacingAndGlyphs" stroke="#231f20" stroke-width="0.2">6</text>
<text x="112.55" y="230.70" font-size="7.6" text-anchor="middle" textLength="3.4" lengthAdjust="spacingAndGlyphs" stroke="#231f20" stroke-width="0.2">1</text>
<text x="145.40" y="230.70" font-size="7.6" text-anchor="middle" textLength="3.4" lengthAdjust="spacingAndGlyphs" stroke="#231f20" stroke-width="0.2">1</text>
<text x="178.20" y="230.70" font-size="7.6" text-anchor="middle" textLength="3.4" lengthAdjust="spacingAndGlyphs" stroke="#231f20" stroke-width="0.2">1</text>
<text x="211.00" y="230.70" font-size="7.6" text-anchor="middle" textLength="3.4" lengthAdjust="spacingAndGlyphs" stroke="#231f20" stroke-width="0.2">1</text>
<text x="243.80" y="230.70" font-size="7.6" text-anchor="middle" textLength="3.4" lengthAdjust="spacingAndGlyphs" stroke="#231f20" stroke-width="0.2">1</text>
</g>
<polyline points="79.70,26.20 80.40,26.20 80.40,33.20 81.30,33.20 81.30,40.00 82.10,40.00 82.10,44.00 82.10,44.00 82.10,70.20 83.40,70.20 83.40,79.90 87.30,79.90 87.30,88.20 110.40,88.20 110.40,99.20 174.40,99.20 174.40,114.30 191.60,114.30 191.60,129.75 250.90,129.75 250.90,129.75" fill="none" stroke="#40b856" stroke-width="1.1" stroke-linejoin="miter"/>
<line x1="95.60" y1="86.80" x2="95.60" y2="89.60" stroke="#40b856" stroke-width="0.9"/>
<line x1="129.40" y1="97.80" x2="129.40" y2="100.60" stroke="#40b856" stroke-width="0.9"/>
<line x1="144.50" y1="97.80" x2="144.50" y2="100.60" stroke="#40b856" stroke-width="0.9"/>
<line x1="201.60" y1="128.35" x2="201.60" y2="131.15" stroke="#40b856" stroke-width="0.9"/>
<polyline points="79.70,26.20 81.20,26.20 81.20,38.30 84.70,38.30 84.70,50.80 85.90,50.80 85.90,62.50 87.90,62.50 87.90,87.50 212.50,87.50 212.50,87.50" fill="none" stroke="#d4385c" stroke-width="1.2" stroke-linejoin="miter"/>
<line x1="105.50" y1="86.10" x2="105.50" y2="88.90" stroke="#d4385c" stroke-width="0.9"/>
<line x1="113.00" y1="86.10" x2="113.00" y2="88.90" stroke="#d4385c" stroke-width="0.9"/>
<line x1="140.40" y1="86.10" x2="140.40" y2="88.90" stroke="#d4385c" stroke-width="0.9"/>
<line x1="198.50" y1="86.10" x2="198.50" y2="88.90" stroke="#d4385c" stroke-width="0.9"/>
<line x1="212.10" y1="86.10" x2="212.10" y2="88.90" stroke="#d4385c" stroke-width="0.9"/>
<polyline points="79.85,26.10 80.10,32.40 80.90,36.60 81.80,40.00 82.60,43.30 83.50,46.70 84.70,50.00 86.00,52.80 87.20,55.00 88.50,57.00 90.00,58.60 91.40,59.80 93.50,61.30 95.60,62.50 97.70,63.20 100.70,64.30 105.40,65.40 113.00,66.90 120.80,67.70 128.50,68.90 136.20,69.80 151.50,70.70 160.00,71.10 177.30,71.90 194.60,72.40 208.50,72.70 217.10,73.40 225.80,74.10 237.90,74.60 250.90,75.00" fill="none" stroke="#1d5895" stroke-width="1.0" stroke-linejoin="miter"/>
<polyline points="90.00,58.60 91.40,59.80 93.50,61.30 95.60,62.50 97.70,63.20 100.70,64.30 105.40,65.40 113.00,66.90 120.80,67.70 128.50,68.90 136.20,69.80 151.50,70.70 160.00,71.10 177.30,71.90 194.60,72.40 208.50,72.70 217.10,73.40 225.80,74.10 237.90,74.60 250.90,75.00" fill="none" stroke="#1d5895" stroke-width="1.3" stroke-linejoin="miter"/>
<line x1="110.62" y1="64.98" x2="110.62" y2="67.88" stroke="#0f4a86" stroke-width="0.95"/>
<line x1="226.18" y1="72.67" x2="226.18" y2="75.57" stroke="#0f4a86" stroke-width="0.95"/>
<line x1="212.62" y1="71.59" x2="212.62" y2="74.49" stroke="#0f4a86" stroke-width="0.95"/>
<line x1="130.18" y1="67.65" x2="130.18" y2="70.55" stroke="#0f4a86" stroke-width="0.95"/>
<line x1="169.14" y1="70.07" x2="169.14" y2="72.97" stroke="#0f4a86" stroke-width="0.95"/>
<line x1="161.69" y1="69.73" x2="161.69" y2="72.63" stroke="#0f4a86" stroke-width="0.95"/>
<line x1="194.44" y1="70.95" x2="194.44" y2="73.85" stroke="#0f4a86" stroke-width="0.95"/>
<line x1="216.66" y1="71.91" x2="216.66" y2="74.81" stroke="#0f4a86" stroke-width="0.95"/>
<line x1="104.06" y1="63.64" x2="104.06" y2="66.54" stroke="#0f4a86" stroke-width="0.95"/>
<line x1="93.44" y1="59.81" x2="93.44" y2="62.71" stroke="#0f4a86" stroke-width="0.95"/>
<line x1="224.29" y1="72.53" x2="224.29" y2="75.43" stroke="#0f4a86" stroke-width="0.95"/>
<line x1="158.98" y1="69.60" x2="158.98" y2="72.50" stroke="#0f4a86" stroke-width="0.95"/>
<line x1="212.38" y1="71.57" x2="212.38" y2="74.47" stroke="#0f4a86" stroke-width="0.95"/>
<line x1="89.19" y1="56.29" x2="89.19" y2="59.19" stroke="#0f4a86" stroke-width="0.95"/>
<line x1="161.02" y1="69.70" x2="161.02" y2="72.60" stroke="#0f4a86" stroke-width="0.95"/>
<line x1="205.78" y1="71.19" x2="205.78" y2="74.09" stroke="#0f4a86" stroke-width="0.95"/>
<line x1="125.92" y1="67.05" x2="125.92" y2="69.95" stroke="#0f4a86" stroke-width="0.95"/>
<line x1="242.03" y1="73.28" x2="242.03" y2="76.18" stroke="#0f4a86" stroke-width="0.95"/>
<line x1="234.93" y1="73.03" x2="234.93" y2="75.93" stroke="#0f4a86" stroke-width="0.95"/>
<line x1="93.81" y1="60.03" x2="93.81" y2="62.93" stroke="#0f4a86" stroke-width="0.95"/>
<line x1="92.97" y1="59.47" x2="92.97" y2="62.37" stroke="#0f4a86" stroke-width="0.95"/>
<line x1="176.59" y1="70.42" x2="176.59" y2="73.32" stroke="#0f4a86" stroke-width="0.95"/>
<line x1="241.04" y1="73.25" x2="241.04" y2="76.15" stroke="#0f4a86" stroke-width="0.95"/>
<line x1="150.62" y1="69.20" x2="150.62" y2="72.10" stroke="#0f4a86" stroke-width="0.95"/>
<line x1="123.95" y1="66.74" x2="123.95" y2="69.64" stroke="#0f4a86" stroke-width="0.95"/>
<line x1="157.25" y1="69.52" x2="157.25" y2="72.42" stroke="#0f4a86" stroke-width="0.95"/>
<line x1="93.56" y1="59.88" x2="93.56" y2="62.78" stroke="#0f4a86" stroke-width="0.95"/>
<line x1="124.78" y1="66.87" x2="124.78" y2="69.77" stroke="#0f4a86" stroke-width="0.95"/>
<line x1="159.81" y1="69.64" x2="159.81" y2="72.54" stroke="#0f4a86" stroke-width="0.95"/>
<line x1="169.20" y1="70.08" x2="169.20" y2="72.98" stroke="#0f4a86" stroke-width="0.95"/>
<line x1="126.62" y1="67.16" x2="126.62" y2="70.06" stroke="#0f4a86" stroke-width="0.95"/>
<line x1="126.26" y1="67.10" x2="126.26" y2="70.00" stroke="#0f4a86" stroke-width="0.95"/>
<line x1="124.30" y1="66.80" x2="124.30" y2="69.70" stroke="#0f4a86" stroke-width="0.95"/>
<line x1="163.33" y1="69.80" x2="163.33" y2="72.70" stroke="#0f4a86" stroke-width="0.95"/>
<line x1="135.81" y1="68.30" x2="135.81" y2="71.20" stroke="#0f4a86" stroke-width="0.95"/>
<line x1="92.33" y1="59.02" x2="92.33" y2="61.92" stroke="#0f4a86" stroke-width="0.95"/>
<line x1="224.58" y1="72.55" x2="224.58" y2="75.45" stroke="#0f4a86" stroke-width="0.95"/>
<line x1="179.02" y1="70.50" x2="179.02" y2="73.40" stroke="#0f4a86" stroke-width="0.95"/>
<line x1="192.93" y1="70.90" x2="192.93" y2="73.80" stroke="#0f4a86" stroke-width="0.95"/>
<line x1="118.98" y1="66.06" x2="118.98" y2="68.96" stroke="#0f4a86" stroke-width="0.95"/>
<line x1="249.69" y1="73.51" x2="249.69" y2="76.41" stroke="#0f4a86" stroke-width="0.95"/>
<line x1="228.20" y1="72.75" x2="228.20" y2="75.65" stroke="#0f4a86" stroke-width="0.95"/>
<line x1="108.44" y1="64.55" x2="108.44" y2="67.45" stroke="#0f4a86" stroke-width="0.95"/>
<line x1="142.76" y1="68.74" x2="142.76" y2="71.64" stroke="#0f4a86" stroke-width="0.95"/>
<line x1="205.77" y1="71.19" x2="205.77" y2="74.09" stroke="#0f4a86" stroke-width="0.95"/>
<line x1="204.10" y1="71.16" x2="204.10" y2="74.06" stroke="#0f4a86" stroke-width="0.95"/>
<line x1="240.60" y1="73.23" x2="240.60" y2="76.13" stroke="#0f4a86" stroke-width="0.95"/>
<line x1="157.25" y1="69.52" x2="157.25" y2="72.42" stroke="#0f4a86" stroke-width="0.95"/>
<line x1="223.36" y1="72.45" x2="223.36" y2="75.35" stroke="#0f4a86" stroke-width="0.95"/>
<line x1="197.47" y1="71.01" x2="197.47" y2="73.91" stroke="#0f4a86" stroke-width="0.95"/>
<line x1="138.01" y1="68.46" x2="138.01" y2="71.36" stroke="#0f4a86" stroke-width="0.95"/>
<line x1="184.07" y1="70.65" x2="184.07" y2="73.55" stroke="#0f4a86" stroke-width="0.95"/>
<line x1="231.86" y1="72.90" x2="231.86" y2="75.80" stroke="#0f4a86" stroke-width="0.95"/>
<line x1="225.98" y1="72.66" x2="225.98" y2="75.56" stroke="#0f4a86" stroke-width="0.95"/>
<line x1="170.73" y1="70.15" x2="170.73" y2="73.05" stroke="#0f4a86" stroke-width="0.95"/>
<line x1="184.30" y1="70.65" x2="184.30" y2="73.55" stroke="#0f4a86" stroke-width="0.95"/>
<line x1="94.44" y1="60.39" x2="94.44" y2="63.29" stroke="#0f4a86" stroke-width="0.95"/>
<line x1="128.19" y1="67.40" x2="128.19" y2="70.30" stroke="#0f4a86" stroke-width="0.95"/>
<line x1="218.07" y1="72.03" x2="218.07" y2="74.93" stroke="#0f4a86" stroke-width="0.95"/>
<line x1="155.99" y1="69.46" x2="155.99" y2="72.36" stroke="#0f4a86" stroke-width="0.95"/>
<line x1="116.89" y1="65.85" x2="116.89" y2="68.75" stroke="#0f4a86" stroke-width="0.95"/>
<line x1="177.78" y1="70.46" x2="177.78" y2="73.36" stroke="#0f4a86" stroke-width="0.95"/>
<line x1="202.78" y1="71.13" x2="202.78" y2="74.03" stroke="#0f4a86" stroke-width="0.95"/>
<line x1="198.15" y1="71.03" x2="198.15" y2="73.93" stroke="#0f4a86" stroke-width="0.95"/>
<line x1="149.57" y1="69.14" x2="149.57" y2="72.04" stroke="#0f4a86" stroke-width="0.95"/>
<line x1="159.98" y1="69.65" x2="159.98" y2="72.55" stroke="#0f4a86" stroke-width="0.95"/>
<line x1="171.24" y1="70.17" x2="171.24" y2="73.07" stroke="#0f4a86" stroke-width="0.95"/>
<line x1="215.00" y1="71.78" x2="215.00" y2="74.68" stroke="#0f4a86" stroke-width="0.95"/>
<line x1="173.27" y1="70.26" x2="173.27" y2="73.16" stroke="#0f4a86" stroke-width="0.95"/>
<line x1="152.58" y1="69.30" x2="152.58" y2="72.20" stroke="#0f4a86" stroke-width="0.95"/>
<line x1="168.20" y1="70.03" x2="168.20" y2="72.93" stroke="#0f4a86" stroke-width="0.95"/>
<line x1="93.64" y1="59.93" x2="93.64" y2="62.83" stroke="#0f4a86" stroke-width="0.95"/>
<line x1="95.90" y1="61.15" x2="95.90" y2="64.05" stroke="#0f4a86" stroke-width="0.95"/>
<line x1="202.83" y1="71.13" x2="202.83" y2="74.03" stroke="#0f4a86" stroke-width="0.95"/>
<line x1="248.18" y1="73.47" x2="248.18" y2="76.37" stroke="#0f4a86" stroke-width="0.95"/>
<line x1="184.98" y1="70.67" x2="184.98" y2="73.57" stroke="#0f4a86" stroke-width="0.95"/>
<line x1="152.63" y1="69.30" x2="152.63" y2="72.20" stroke="#0f4a86" stroke-width="0.95"/>
<line x1="116.46" y1="65.80" x2="116.46" y2="68.70" stroke="#0f4a86" stroke-width="0.95"/>
<line x1="170.24" y1="70.12" x2="170.24" y2="73.02" stroke="#0f4a86" stroke-width="0.95"/>
<line x1="248.00" y1="73.46" x2="248.00" y2="76.36" stroke="#0f4a86" stroke-width="0.95"/>
<line x1="213.71" y1="71.67" x2="213.71" y2="74.57" stroke="#0f4a86" stroke-width="0.95"/>
<line x1="176.30" y1="70.40" x2="176.30" y2="73.30" stroke="#0f4a86" stroke-width="0.95"/>
<line x1="228.26" y1="72.75" x2="228.26" y2="75.65" stroke="#0f4a86" stroke-width="0.95"/>
<line x1="126.47" y1="67.13" x2="126.47" y2="70.03" stroke="#0f4a86" stroke-width="0.95"/>
<line x1="172.11" y1="70.21" x2="172.11" y2="73.11" stroke="#0f4a86" stroke-width="0.95"/>
<line x1="243.20" y1="73.31" x2="243.20" y2="76.21" stroke="#0f4a86" stroke-width="0.95"/>
<line x1="182.48" y1="70.60" x2="182.48" y2="73.50" stroke="#0f4a86" stroke-width="0.95"/>
<line x1="163.25" y1="69.80" x2="163.25" y2="72.70" stroke="#0f4a86" stroke-width="0.95"/>
<line x1="132.49" y1="67.92" x2="132.49" y2="70.82" stroke="#0f4a86" stroke-width="0.95"/>
<line x1="177.65" y1="70.46" x2="177.65" y2="73.36" stroke="#0f4a86" stroke-width="0.95"/>
<line x1="243.95" y1="73.34" x2="243.95" y2="76.24" stroke="#0f4a86" stroke-width="0.95"/>
<line x1="89.78" y1="56.91" x2="89.78" y2="59.81" stroke="#0f4a86" stroke-width="0.95"/>
<line x1="215.84" y1="71.85" x2="215.84" y2="74.75" stroke="#0f4a86" stroke-width="0.95"/>
<line x1="221.81" y1="72.33" x2="221.81" y2="75.23" stroke="#0f4a86" stroke-width="0.95"/>
<line x1="232.46" y1="72.93" x2="232.46" y2="75.83" stroke="#0f4a86" stroke-width="0.95"/>
<line x1="208.85" y1="71.28" x2="208.85" y2="74.18" stroke="#0f4a86" stroke-width="0.95"/>
<line x1="219.97" y1="72.18" x2="219.97" y2="75.08" stroke="#0f4a86" stroke-width="0.95"/>
<line x1="172.90" y1="70.25" x2="172.90" y2="73.15" stroke="#0f4a86" stroke-width="0.95"/>
<line x1="179.82" y1="70.52" x2="179.82" y2="73.42" stroke="#0f4a86" stroke-width="0.95"/>
<line x1="157.90" y1="69.55" x2="157.90" y2="72.45" stroke="#0f4a86" stroke-width="0.95"/>
<line x1="97.94" y1="61.84" x2="97.94" y2="64.74" stroke="#0f4a86" stroke-width="0.95"/>
<line x1="229.84" y1="72.82" x2="229.84" y2="75.72" stroke="#0f4a86" stroke-width="0.95"/>
<line x1="181.22" y1="70.56" x2="181.22" y2="73.46" stroke="#0f4a86" stroke-width="0.95"/>
<line x1="121.23" y1="66.32" x2="121.23" y2="69.22" stroke="#0f4a86" stroke-width="0.95"/>
<line x1="170.64" y1="70.14" x2="170.64" y2="73.04" stroke="#0f4a86" stroke-width="0.95"/>
<line x1="167.43" y1="69.99" x2="167.43" y2="72.89" stroke="#0f4a86" stroke-width="0.95"/>
<line x1="146.67" y1="68.97" x2="146.67" y2="71.87" stroke="#0f4a86" stroke-width="0.95"/>
<line x1="144.93" y1="68.86" x2="144.93" y2="71.76" stroke="#0f4a86" stroke-width="0.95"/>
<line x1="176.11" y1="70.39" x2="176.11" y2="73.29" stroke="#0f4a86" stroke-width="0.95"/>
<line x1="189.89" y1="70.81" x2="189.89" y2="73.71" stroke="#0f4a86" stroke-width="0.95"/>
<line x1="188.10" y1="70.76" x2="188.10" y2="73.66" stroke="#0f4a86" stroke-width="0.95"/>
<line x1="163.09" y1="69.79" x2="163.09" y2="72.69" stroke="#0f4a86" stroke-width="0.95"/>
<line x1="93.38" y1="59.77" x2="93.38" y2="62.67" stroke="#0f4a86" stroke-width="0.95"/>
<line x1="126.06" y1="67.07" x2="126.06" y2="69.97" stroke="#0f4a86" stroke-width="0.95"/>
<line x1="117.57" y1="65.92" x2="117.57" y2="68.82" stroke="#0f4a86" stroke-width="0.95"/>
<line x1="183.56" y1="70.63" x2="183.56" y2="73.53" stroke="#0f4a86" stroke-width="0.95"/>
<line x1="228.38" y1="72.76" x2="228.38" y2="75.66" stroke="#0f4a86" stroke-width="0.95"/>
<line x1="218.24" y1="72.04" x2="218.24" y2="74.94" stroke="#0f4a86" stroke-width="0.95"/>
<line x1="218.02" y1="72.02" x2="218.02" y2="74.92" stroke="#0f4a86" stroke-width="0.95"/>
<line x1="221.15" y1="72.28" x2="221.15" y2="75.18" stroke="#0f4a86" stroke-width="0.95"/>
<line x1="130.22" y1="67.65" x2="130.22" y2="70.55" stroke="#0f4a86" stroke-width="0.95"/>
<line x1="225.25" y1="72.61" x2="225.25" y2="75.51" stroke="#0f4a86" stroke-width="0.95"/>
<line x1="197.93" y1="71.02" x2="197.93" y2="73.92" stroke="#0f4a86" stroke-width="0.95"/>
<line x1="102.34" y1="63.23" x2="102.34" y2="66.13" stroke="#0f4a86" stroke-width="0.95"/>
<line x1="91.55" y1="58.46" x2="91.55" y2="61.36" stroke="#0f4a86" stroke-width="0.95"/>
<line x1="91.21" y1="58.19" x2="91.21" y2="61.09" stroke="#0f4a86" stroke-width="0.95"/>
<line x1="211.29" y1="71.48" x2="211.29" y2="74.38" stroke="#0f4a86" stroke-width="0.95"/>
<line x1="129.29" y1="67.54" x2="129.29" y2="70.44" stroke="#0f4a86" stroke-width="0.95"/>
<line x1="106.59" y1="64.19" x2="106.59" y2="67.09" stroke="#0f4a86" stroke-width="0.95"/>
<line x1="190.10" y1="70.82" x2="190.10" y2="73.72" stroke="#0f4a86" stroke-width="0.95"/>
<line x1="144.66" y1="68.85" x2="144.66" y2="71.75" stroke="#0f4a86" stroke-width="0.95"/>
<line x1="100.11" y1="62.64" x2="100.11" y2="65.54" stroke="#0f4a86" stroke-width="0.95"/>
<line x1="114.72" y1="65.63" x2="114.72" y2="68.53" stroke="#0f4a86" stroke-width="0.95"/>
<line x1="174.31" y1="70.31" x2="174.31" y2="73.21" stroke="#0f4a86" stroke-width="0.95"/>
<line x1="116.10" y1="65.77" x2="116.10" y2="68.67" stroke="#0f4a86" stroke-width="0.95"/>
<line x1="133.08" y1="67.98" x2="133.08" y2="70.88" stroke="#0f4a86" stroke-width="0.95"/>
<line x1="204.16" y1="71.16" x2="204.16" y2="74.06" stroke="#0f4a86" stroke-width="0.95"/>
<line x1="162.53" y1="69.77" x2="162.53" y2="72.67" stroke="#0f4a86" stroke-width="0.95"/>
<line x1="141.03" y1="68.63" x2="141.03" y2="71.53" stroke="#0f4a86" stroke-width="0.95"/>
<line x1="165.62" y1="69.91" x2="165.62" y2="72.81" stroke="#0f4a86" stroke-width="0.95"/>
<line x1="92.68" y1="59.26" x2="92.68" y2="62.16" stroke="#0f4a86" stroke-width="0.95"/>
<line x1="151.49" y1="69.25" x2="151.49" y2="72.15" stroke="#0f4a86" stroke-width="0.95"/>
<line x1="157.06" y1="69.51" x2="157.06" y2="72.41" stroke="#0f4a86" stroke-width="0.95"/>
<line x1="119.32" y1="66.10" x2="119.32" y2="69.00" stroke="#0f4a86" stroke-width="0.95"/>
<line x1="106.47" y1="64.16" x2="106.47" y2="67.06" stroke="#0f4a86" stroke-width="0.95"/>
<line x1="234.67" y1="73.02" x2="234.67" y2="75.92" stroke="#0f4a86" stroke-width="0.95"/>
<line x1="171.51" y1="70.18" x2="171.51" y2="73.08" stroke="#0f4a86" stroke-width="0.95"/>
<line x1="122.73" y1="66.55" x2="122.73" y2="69.45" stroke="#0f4a86" stroke-width="0.95"/>
<line x1="187.00" y1="70.73" x2="187.00" y2="73.63" stroke="#0f4a86" stroke-width="0.95"/>
<line x1="221.25" y1="72.28" x2="221.25" y2="75.18" stroke="#0f4a86" stroke-width="0.95"/>
<polyline points="342.10,26.35 342.50,26.35 342.50,33.20 343.80,33.20 343.80,43.30 346.30,43.30 346.30,45.80 350.50,45.80 350.50,51.30 352.60,51.30 352.60,58.50 356.80,58.50 356.80,63.60 365.50,63.60 365.50,71.80 415.30,71.80 415.30,84.70 488.00,84.70 488.00,84.70" fill="none" stroke="#40b856" stroke-width="1.1" stroke-linejoin="miter"/>
<line x1="374.30" y1="70.40" x2="374.30" y2="73.20" stroke="#40b856" stroke-width="0.9"/>
<line x1="378.20" y1="70.40" x2="378.20" y2="73.20" stroke="#40b856" stroke-width="0.9"/>
<line x1="392.20" y1="70.40" x2="392.20" y2="73.20" stroke="#40b856" stroke-width="0.9"/>
<line x1="419.50" y1="83.30" x2="419.50" y2="86.10" stroke="#40b856" stroke-width="0.9"/>
<line x1="427.00" y1="83.30" x2="427.00" y2="86.10" stroke="#40b856" stroke-width="0.9"/>
<line x1="446.30" y1="83.30" x2="446.30" y2="86.10" stroke="#40b856" stroke-width="0.9"/>
<line x1="471.70" y1="83.30" x2="471.70" y2="86.10" stroke="#40b856" stroke-width="0.9"/>
<line x1="487.70" y1="83.30" x2="487.70" y2="86.10" stroke="#40b856" stroke-width="0.9"/>
<polyline points="342.10,26.35 343.60,26.35 343.60,38.50 351.50,38.50 351.50,50.85 513.00,50.85 513.00,50.85" fill="none" stroke="#d4385c" stroke-width="1.2" stroke-linejoin="miter"/>
<line x1="358.90" y1="49.45" x2="358.90" y2="52.25" stroke="#d4385c" stroke-width="0.9"/>
<line x1="360.20" y1="49.45" x2="360.20" y2="52.25" stroke="#d4385c" stroke-width="0.9"/>
<line x1="375.20" y1="49.45" x2="375.20" y2="52.25" stroke="#d4385c" stroke-width="0.9"/>
<line x1="392.00" y1="49.45" x2="392.00" y2="52.25" stroke="#d4385c" stroke-width="0.9"/>
<line x1="475.00" y1="49.45" x2="475.00" y2="52.25" stroke="#d4385c" stroke-width="0.9"/>
<polyline points="342.10,26.35 342.50,32.40 343.40,38.30 344.20,41.60 345.00,45.00 345.90,48.40 347.10,51.70 348.40,54.30 350.10,56.50 351.80,58.60 353.90,60.30 356.00,62.10 358.50,63.50 361.80,64.60 365.20,65.50 370.40,66.40 380.80,68.00 394.60,69.70 405.00,70.40 415.40,71.10 429.20,71.50 446.50,71.90 465.00,72.60 480.00,73.10 490.00,74.50 512.50,75.80" fill="none" stroke="#1d5895" stroke-width="1.0" stroke-linejoin="miter"/>
<polyline points="351.80,58.60 353.90,60.30 356.00,62.10 358.50,63.50 361.80,64.60 365.20,65.50 370.40,66.40 380.80,68.00 394.60,69.70 405.00,70.40 415.40,71.10 429.20,71.50 446.50,71.90 465.00,72.60 480.00,73.10 490.00,74.50 512.50,75.80" fill="none" stroke="#1d5895" stroke-width="1.3" stroke-linejoin="miter"/>
<line x1="505.40" y1="73.94" x2="505.40" y2="76.84" stroke="#0f4a86" stroke-width="0.95"/>
<line x1="504.08" y1="73.86" x2="504.08" y2="76.76" stroke="#0f4a86" stroke-width="0.95"/>
<line x1="360.23" y1="62.63" x2="360.23" y2="65.53" stroke="#0f4a86" stroke-width="0.95"/>
<line x1="364.80" y1="63.94" x2="364.80" y2="66.84" stroke="#0f4a86" stroke-width="0.95"/>
<line x1="485.95" y1="72.48" x2="485.95" y2="75.38" stroke="#0f4a86" stroke-width="0.95"/>
<line x1="469.89" y1="71.31" x2="469.89" y2="74.21" stroke="#0f4a86" stroke-width="0.95"/>
<line x1="459.19" y1="70.93" x2="459.19" y2="73.83" stroke="#0f4a86" stroke-width="0.95"/>
<line x1="400.83" y1="68.67" x2="400.83" y2="71.57" stroke="#0f4a86" stroke-width="0.95"/>
<line x1="448.90" y1="70.54" x2="448.90" y2="73.44" stroke="#0f4a86" stroke-width="0.95"/>
<line x1="449.04" y1="70.55" x2="449.04" y2="73.45" stroke="#0f4a86" stroke-width="0.95"/>
<line x1="444.91" y1="70.41" x2="444.91" y2="73.31" stroke="#0f4a86" stroke-width="0.95"/>
<line x1="376.66" y1="65.91" x2="376.66" y2="68.81" stroke="#0f4a86" stroke-width="0.95"/>
<line x1="420.61" y1="69.80" x2="420.61" y2="72.70" stroke="#0f4a86" stroke-width="0.95"/>
<line x1="414.62" y1="69.60" x2="414.62" y2="72.50" stroke="#0f4a86" stroke-width="0.95"/>
<line x1="467.79" y1="71.24" x2="467.79" y2="74.14" stroke="#0f4a86" stroke-width="0.95"/>
<line x1="511.66" y1="74.30" x2="511.66" y2="77.20" stroke="#0f4a86" stroke-width="0.95"/>
<line x1="504.33" y1="73.88" x2="504.33" y2="76.78" stroke="#0f4a86" stroke-width="0.95"/>
<line x1="438.93" y1="70.27" x2="438.93" y2="73.17" stroke="#0f4a86" stroke-width="0.95"/>
<line x1="422.90" y1="69.87" x2="422.90" y2="72.77" stroke="#0f4a86" stroke-width="0.95"/>
<line x1="394.39" y1="68.22" x2="394.39" y2="71.12" stroke="#0f4a86" stroke-width="0.95"/>
<line x1="356.90" y1="61.15" x2="356.90" y2="64.05" stroke="#0f4a86" stroke-width="0.95"/>
<line x1="355.53" y1="60.25" x2="355.53" y2="63.15" stroke="#0f4a86" stroke-width="0.95"/>
<line x1="426.13" y1="69.96" x2="426.13" y2="72.86" stroke="#0f4a86" stroke-width="0.95"/>
<line x1="402.50" y1="68.78" x2="402.50" y2="71.68" stroke="#0f4a86" stroke-width="0.95"/>
<line x1="412.43" y1="69.45" x2="412.43" y2="72.35" stroke="#0f4a86" stroke-width="0.95"/>
<line x1="495.03" y1="73.34" x2="495.03" y2="76.24" stroke="#0f4a86" stroke-width="0.95"/>
<line x1="435.96" y1="70.21" x2="435.96" y2="73.11" stroke="#0f4a86" stroke-width="0.95"/>
<line x1="441.57" y1="70.34" x2="441.57" y2="73.24" stroke="#0f4a86" stroke-width="0.95"/>
<line x1="389.21" y1="67.59" x2="389.21" y2="70.49" stroke="#0f4a86" stroke-width="0.95"/>
<line x1="354.95" y1="59.75" x2="354.95" y2="62.65" stroke="#0f4a86" stroke-width="0.95"/>
<line x1="403.58" y1="68.85" x2="403.58" y2="71.75" stroke="#0f4a86" stroke-width="0.95"/>
<line x1="373.16" y1="65.38" x2="373.16" y2="68.28" stroke="#0f4a86" stroke-width="0.95"/>
<line x1="433.45" y1="70.15" x2="433.45" y2="73.05" stroke="#0f4a86" stroke-width="0.95"/>
<line x1="512.29" y1="74.34" x2="512.29" y2="77.24" stroke="#0f4a86" stroke-width="0.95"/>
<line x1="459.96" y1="70.96" x2="459.96" y2="73.86" stroke="#0f4a86" stroke-width="0.95"/>
<line x1="380.45" y1="66.50" x2="380.45" y2="69.40" stroke="#0f4a86" stroke-width="0.95"/>
<line x1="495.32" y1="73.36" x2="495.32" y2="76.26" stroke="#0f4a86" stroke-width="0.95"/>
<line x1="479.70" y1="71.64" x2="479.70" y2="74.54" stroke="#0f4a86" stroke-width="0.95"/>
<line x1="469.63" y1="71.30" x2="469.63" y2="74.20" stroke="#0f4a86" stroke-width="0.95"/>
<line x1="497.42" y1="73.48" x2="497.42" y2="76.38" stroke="#0f4a86" stroke-width="0.95"/>
<line x1="474.23" y1="71.46" x2="474.23" y2="74.36" stroke="#0f4a86" stroke-width="0.95"/>
<line x1="478.57" y1="71.60" x2="478.57" y2="74.50" stroke="#0f4a86" stroke-width="0.95"/>
<line x1="408.20" y1="69.17" x2="408.20" y2="72.07" stroke="#0f4a86" stroke-width="0.95"/>
<line x1="509.43" y1="74.17" x2="509.43" y2="77.07" stroke="#0f4a86" stroke-width="0.95"/>
<line x1="506.35" y1="73.99" x2="506.35" y2="76.89" stroke="#0f4a86" stroke-width="0.95"/>
<line x1="377.12" y1="65.98" x2="377.12" y2="68.88" stroke="#0f4a86" stroke-width="0.95"/>
<line x1="472.80" y1="71.41" x2="472.80" y2="74.31" stroke="#0f4a86" stroke-width="0.95"/>
<line x1="466.53" y1="71.20" x2="466.53" y2="74.10" stroke="#0f4a86" stroke-width="0.95"/>
<line x1="425.57" y1="69.94" x2="425.57" y2="72.84" stroke="#0f4a86" stroke-width="0.95"/>
<line x1="436.70" y1="70.22" x2="436.70" y2="73.12" stroke="#0f4a86" stroke-width="0.95"/>
<line x1="430.19" y1="70.07" x2="430.19" y2="72.97" stroke="#0f4a86" stroke-width="0.95"/>
<line x1="500.37" y1="73.65" x2="500.37" y2="76.55" stroke="#0f4a86" stroke-width="0.95"/>
<line x1="431.94" y1="70.11" x2="431.94" y2="73.01" stroke="#0f4a86" stroke-width="0.95"/>
<line x1="485.31" y1="72.39" x2="485.31" y2="75.29" stroke="#0f4a86" stroke-width="0.95"/>
<line x1="408.22" y1="69.17" x2="408.22" y2="72.07" stroke="#0f4a86" stroke-width="0.95"/>
<line x1="493.59" y1="73.26" x2="493.59" y2="76.16" stroke="#0f4a86" stroke-width="0.95"/>
<line x1="496.31" y1="73.41" x2="496.31" y2="76.31" stroke="#0f4a86" stroke-width="0.95"/>
<line x1="425.51" y1="69.94" x2="425.51" y2="72.84" stroke="#0f4a86" stroke-width="0.95"/>
<line x1="442.73" y1="70.36" x2="442.73" y2="73.26" stroke="#0f4a86" stroke-width="0.95"/>
<line x1="499.64" y1="73.61" x2="499.64" y2="76.51" stroke="#0f4a86" stroke-width="0.95"/>
<line x1="467.92" y1="71.25" x2="467.92" y2="74.15" stroke="#0f4a86" stroke-width="0.95"/>
<line x1="429.64" y1="70.06" x2="429.64" y2="72.96" stroke="#0f4a86" stroke-width="0.95"/>
<line x1="386.90" y1="67.30" x2="386.90" y2="70.20" stroke="#0f4a86" stroke-width="0.95"/>
<line x1="403.50" y1="68.85" x2="403.50" y2="71.75" stroke="#0f4a86" stroke-width="0.95"/>
<line x1="464.01" y1="71.11" x2="464.01" y2="74.01" stroke="#0f4a86" stroke-width="0.95"/>
<line x1="377.90" y1="66.10" x2="377.90" y2="69.00" stroke="#0f4a86" stroke-width="0.95"/>
<line x1="497.64" y1="73.49" x2="497.64" y2="76.39" stroke="#0f4a86" stroke-width="0.95"/>
<line x1="394.38" y1="68.22" x2="394.38" y2="71.12" stroke="#0f4a86" stroke-width="0.95"/>
<line x1="498.20" y1="73.52" x2="498.20" y2="76.42" stroke="#0f4a86" stroke-width="0.95"/>
<line x1="401.06" y1="68.69" x2="401.06" y2="71.59" stroke="#0f4a86" stroke-width="0.95"/>
<line x1="505.62" y1="73.95" x2="505.62" y2="76.85" stroke="#0f4a86" stroke-width="0.95"/>
<line x1="465.08" y1="71.15" x2="465.08" y2="74.05" stroke="#0f4a86" stroke-width="0.95"/>
<line x1="432.49" y1="70.13" x2="432.49" y2="73.03" stroke="#0f4a86" stroke-width="0.95"/>
<line x1="434.66" y1="70.18" x2="434.66" y2="73.08" stroke="#0f4a86" stroke-width="0.95"/>
<line x1="456.24" y1="70.82" x2="456.24" y2="73.72" stroke="#0f4a86" stroke-width="0.95"/>
<line x1="445.99" y1="70.44" x2="445.99" y2="73.34" stroke="#0f4a86" stroke-width="0.95"/>
<line x1="401.43" y1="68.71" x2="401.43" y2="71.61" stroke="#0f4a86" stroke-width="0.95"/>
<line x1="384.64" y1="67.02" x2="384.64" y2="69.92" stroke="#0f4a86" stroke-width="0.95"/>
<line x1="433.72" y1="70.15" x2="433.72" y2="73.05" stroke="#0f4a86" stroke-width="0.95"/>
<line x1="501.87" y1="73.74" x2="501.87" y2="76.64" stroke="#0f4a86" stroke-width="0.95"/>
<line x1="451.69" y1="70.65" x2="451.69" y2="73.55" stroke="#0f4a86" stroke-width="0.95"/>
<line x1="363.27" y1="63.54" x2="363.27" y2="66.44" stroke="#0f4a86" stroke-width="0.95"/>
<line x1="483.51" y1="72.14" x2="483.51" y2="75.04" stroke="#0f4a86" stroke-width="0.95"/>
<line x1="468.27" y1="71.26" x2="468.27" y2="74.16" stroke="#0f4a86" stroke-width="0.95"/>
<line x1="497.60" y1="73.49" x2="497.60" y2="76.39" stroke="#0f4a86" stroke-width="0.95"/>
<line x1="381.99" y1="66.70" x2="381.99" y2="69.60" stroke="#0f4a86" stroke-width="0.95"/>
<line x1="471.31" y1="71.36" x2="471.31" y2="74.26" stroke="#0f4a86" stroke-width="0.95"/>
<line x1="360.58" y1="62.74" x2="360.58" y2="65.64" stroke="#0f4a86" stroke-width="0.95"/>
<line x1="456.48" y1="70.83" x2="456.48" y2="73.73" stroke="#0f4a86" stroke-width="0.95"/>
<line x1="395.18" y1="68.29" x2="395.18" y2="71.19" stroke="#0f4a86" stroke-width="0.95"/>
<line x1="387.68" y1="67.40" x2="387.68" y2="70.30" stroke="#0f4a86" stroke-width="0.95"/>
<line x1="492.40" y1="73.19" x2="492.40" y2="76.09" stroke="#0f4a86" stroke-width="0.95"/>
<line x1="368.25" y1="64.58" x2="368.25" y2="67.48" stroke="#0f4a86" stroke-width="0.95"/>
<line x1="435.41" y1="70.19" x2="435.41" y2="73.09" stroke="#0f4a86" stroke-width="0.95"/>
<line x1="488.93" y1="72.90" x2="488.93" y2="75.80" stroke="#0f4a86" stroke-width="0.95"/>
<line x1="390.62" y1="67.76" x2="390.62" y2="70.66" stroke="#0f4a86" stroke-width="0.95"/>
<line x1="385.07" y1="67.08" x2="385.07" y2="69.98" stroke="#0f4a86" stroke-width="0.95"/>
<line x1="493.23" y1="73.24" x2="493.23" y2="76.14" stroke="#0f4a86" stroke-width="0.95"/>
<line x1="419.36" y1="69.76" x2="419.36" y2="72.66" stroke="#0f4a86" stroke-width="0.95"/>
<line x1="466.82" y1="71.21" x2="466.82" y2="74.11" stroke="#0f4a86" stroke-width="0.95"/>
<line x1="356.24" y1="60.79" x2="356.24" y2="63.69" stroke="#0f4a86" stroke-width="0.95"/>
<line x1="409.58" y1="69.26" x2="409.58" y2="72.16" stroke="#0f4a86" stroke-width="0.95"/>
<line x1="378.84" y1="66.25" x2="378.84" y2="69.15" stroke="#0f4a86" stroke-width="0.95"/>
<line x1="459.68" y1="70.95" x2="459.68" y2="73.85" stroke="#0f4a86" stroke-width="0.95"/>
<line x1="364.48" y1="63.86" x2="364.48" y2="66.76" stroke="#0f4a86" stroke-width="0.95"/>
<line x1="505.17" y1="73.93" x2="505.17" y2="76.83" stroke="#0f4a86" stroke-width="0.95"/>
<line x1="355.19" y1="59.96" x2="355.19" y2="62.86" stroke="#0f4a86" stroke-width="0.95"/>
<line x1="468.83" y1="71.28" x2="468.83" y2="74.18" stroke="#0f4a86" stroke-width="0.95"/>
<line x1="354.51" y1="59.38" x2="354.51" y2="62.28" stroke="#0f4a86" stroke-width="0.95"/>
<line x1="392.37" y1="67.98" x2="392.37" y2="70.88" stroke="#0f4a86" stroke-width="0.95"/>
<line x1="482.38" y1="71.98" x2="482.38" y2="74.88" stroke="#0f4a86" stroke-width="0.95"/>
<line x1="376.46" y1="65.88" x2="376.46" y2="68.78" stroke="#0f4a86" stroke-width="0.95"/>
<line x1="380.76" y1="66.54" x2="380.76" y2="69.44" stroke="#0f4a86" stroke-width="0.95"/>
<line x1="462.71" y1="71.06" x2="462.71" y2="73.96" stroke="#0f4a86" stroke-width="0.95"/>
<line x1="413.33" y1="69.51" x2="413.33" y2="72.41" stroke="#0f4a86" stroke-width="0.95"/>
<line x1="358.07" y1="61.81" x2="358.07" y2="64.71" stroke="#0f4a86" stroke-width="0.95"/>
<line x1="510.89" y1="74.26" x2="510.89" y2="77.16" stroke="#0f4a86" stroke-width="0.95"/>
<line x1="375.54" y1="65.74" x2="375.54" y2="68.64" stroke="#0f4a86" stroke-width="0.95"/>
<line x1="356.95" y1="61.18" x2="356.95" y2="64.08" stroke="#0f4a86" stroke-width="0.95"/>
<line x1="406.65" y1="69.06" x2="406.65" y2="71.96" stroke="#0f4a86" stroke-width="0.95"/>
<line x1="450.40" y1="70.60" x2="450.40" y2="73.50" stroke="#0f4a86" stroke-width="0.95"/>
<line x1="470.93" y1="71.35" x2="470.93" y2="74.25" stroke="#0f4a86" stroke-width="0.95"/>
<line x1="369.36" y1="64.77" x2="369.36" y2="67.67" stroke="#0f4a86" stroke-width="0.95"/>
<line x1="405.53" y1="68.99" x2="405.53" y2="71.89" stroke="#0f4a86" stroke-width="0.95"/>
<line x1="356.07" y1="60.69" x2="356.07" y2="63.59" stroke="#0f4a86" stroke-width="0.95"/>
<line x1="423.51" y1="69.89" x2="423.51" y2="72.79" stroke="#0f4a86" stroke-width="0.95"/>
<line x1="474.73" y1="71.47" x2="474.73" y2="74.37" stroke="#0f4a86" stroke-width="0.95"/>
<line x1="470.53" y1="71.33" x2="470.53" y2="74.23" stroke="#0f4a86" stroke-width="0.95"/>
<line x1="496.69" y1="73.44" x2="496.69" y2="76.34" stroke="#0f4a86" stroke-width="0.95"/>
<line x1="473.06" y1="71.42" x2="473.06" y2="74.32" stroke="#0f4a86" stroke-width="0.95"/>
<line x1="490.30" y1="73.07" x2="490.30" y2="75.97" stroke="#0f4a86" stroke-width="0.95"/>
<line x1="464.94" y1="71.15" x2="464.94" y2="74.05" stroke="#0f4a86" stroke-width="0.95"/>
<line x1="427.41" y1="70.00" x2="427.41" y2="72.90" stroke="#0f4a86" stroke-width="0.95"/>
<line x1="387.50" y1="67.38" x2="387.50" y2="70.28" stroke="#0f4a86" stroke-width="0.95"/>
<line x1="457.76" y1="70.88" x2="457.76" y2="73.78" stroke="#0f4a86" stroke-width="0.95"/>
<line x1="402.15" y1="68.76" x2="402.15" y2="71.66" stroke="#0f4a86" stroke-width="0.95"/>
<line x1="367.57" y1="64.46" x2="367.57" y2="67.36" stroke="#0f4a86" stroke-width="0.95"/>
<line x1="423.38" y1="69.88" x2="423.38" y2="72.78" stroke="#0f4a86" stroke-width="0.95"/>
<line x1="492.29" y1="73.18" x2="492.29" y2="76.08" stroke="#0f4a86" stroke-width="0.95"/>
<line x1="371.68" y1="65.15" x2="371.68" y2="68.05" stroke="#0f4a86" stroke-width="0.95"/>
<line x1="445.51" y1="70.43" x2="445.51" y2="73.33" stroke="#0f4a86" stroke-width="0.95"/>
<line x1="414.52" y1="69.59" x2="414.52" y2="72.49" stroke="#0f4a86" stroke-width="0.95"/>
<line x1="434.19" y1="70.17" x2="434.19" y2="73.07" stroke="#0f4a86" stroke-width="0.95"/>
<line x1="374.31" y1="65.55" x2="374.31" y2="68.45" stroke="#0f4a86" stroke-width="0.95"/>
<line x1="506.00" y1="73.97" x2="506.00" y2="76.87" stroke="#0f4a86" stroke-width="0.95"/>
<line x1="392.92" y1="68.04" x2="392.92" y2="70.94" stroke="#0f4a86" stroke-width="0.95"/>
<line x1="448.92" y1="70.54" x2="448.92" y2="73.44" stroke="#0f4a86" stroke-width="0.95"/>
<line x1="418.85" y1="69.75" x2="418.85" y2="72.65" stroke="#0f4a86" stroke-width="0.95"/>
<line x1="354.01" y1="58.94" x2="354.01" y2="61.84" stroke="#0f4a86" stroke-width="0.95"/>
<line x1="441.15" y1="70.33" x2="441.15" y2="73.23" stroke="#0f4a86" stroke-width="0.95"/>
<polyline points="79.70,297.40 85.90,297.40 85.90,341.80 92.30,341.80 92.30,363.80 146.50,363.80 146.50,363.80" fill="none" stroke="#40b856" stroke-width="1.1" stroke-linejoin="miter"/>
<line x1="104.60" y1="362.40" x2="104.60" y2="365.20" stroke="#40b856" stroke-width="0.9"/>
<line x1="145.80" y1="362.40" x2="145.80" y2="365.20" stroke="#40b856" stroke-width="0.9"/>
<polyline points="79.70,297.40 82.20,297.40 82.20,311.60 83.50,311.60 83.50,326.40 88.10,326.40 88.10,341.60 212.50,341.60 212.50,341.60" fill="none" stroke="#d4385c" stroke-width="1.2" stroke-linejoin="miter"/>
<line x1="96.70" y1="340.20" x2="96.70" y2="343.00" stroke="#d4385c" stroke-width="0.9"/>
<line x1="112.70" y1="340.20" x2="112.70" y2="343.00" stroke="#d4385c" stroke-width="0.9"/>
<line x1="129.40" y1="340.20" x2="129.40" y2="343.00" stroke="#d4385c" stroke-width="0.9"/>
<line x1="145.40" y1="340.20" x2="145.40" y2="343.00" stroke="#d4385c" stroke-width="0.9"/>
<line x1="212.00" y1="340.20" x2="212.00" y2="343.00" stroke="#d4385c" stroke-width="0.9"/>
<polyline points="79.70,297.40 80.10,302.40 80.90,306.60 81.80,310.80 82.60,315.00 83.50,319.20 84.70,322.60 86.40,324.70 88.10,326.40 89.80,328.50 91.90,330.20 94.00,331.90 96.50,333.30 99.80,334.70 103.20,335.80 107.40,336.70 110.40,337.30 120.80,338.70 131.10,340.00 141.50,340.80 151.90,341.70 162.30,342.10 172.70,342.50 186.50,342.70 195.00,343.10 210.00,343.50 218.00,344.20 225.00,345.10 235.00,346.00 250.50,346.40" fill="none" stroke="#1d5895" stroke-width="1.0" stroke-linejoin="miter"/>
<polyline points="89.80,328.50 91.90,330.20 94.00,331.90 96.50,333.30 99.80,334.70 103.20,335.80 107.40,336.70 110.40,337.30 120.80,338.70 131.10,340.00 141.50,340.80 151.90,341.70 162.30,342.10 172.70,342.50 186.50,342.70 195.00,343.10 210.00,343.50 218.00,344.20 225.00,345.10 235.00,346.00 250.50,346.40" fill="none" stroke="#1d5895" stroke-width="1.3" stroke-linejoin="miter"/>
<line x1="127.20" y1="338.06" x2="127.20" y2="340.96" stroke="#0f4a86" stroke-width="0.95"/>
<line x1="176.76" y1="341.11" x2="176.76" y2="344.01" stroke="#0f4a86" stroke-width="0.95"/>
<line x1="148.56" y1="339.96" x2="148.56" y2="342.86" stroke="#0f4a86" stroke-width="0.95"/>
<line x1="186.41" y1="341.25" x2="186.41" y2="344.15" stroke="#0f4a86" stroke-width="0.95"/>
<line x1="189.94" y1="341.41" x2="189.94" y2="344.31" stroke="#0f4a86" stroke-width="0.95"/>
<line x1="99.30" y1="333.04" x2="99.30" y2="335.94" stroke="#0f4a86" stroke-width="0.95"/>
<line x1="90.83" y1="327.88" x2="90.83" y2="330.78" stroke="#0f4a86" stroke-width="0.95"/>
<line x1="224.20" y1="343.55" x2="224.20" y2="346.45" stroke="#0f4a86" stroke-width="0.95"/>
<line x1="130.66" y1="338.49" x2="130.66" y2="341.39" stroke="#0f4a86" stroke-width="0.95"/>
<line x1="126.61" y1="337.98" x2="126.61" y2="340.88" stroke="#0f4a86" stroke-width="0.95"/>
<line x1="249.80" y1="344.93" x2="249.80" y2="347.83" stroke="#0f4a86" stroke-width="0.95"/>
<line x1="164.79" y1="340.75" x2="164.79" y2="343.65" stroke="#0f4a86" stroke-width="0.95"/>
<line x1="224.04" y1="343.53" x2="224.04" y2="346.43" stroke="#0f4a86" stroke-width="0.95"/>
<line x1="165.77" y1="340.78" x2="165.77" y2="343.68" stroke="#0f4a86" stroke-width="0.95"/>
<line x1="192.10" y1="341.51" x2="192.10" y2="344.41" stroke="#0f4a86" stroke-width="0.95"/>
<line x1="113.07" y1="336.21" x2="113.07" y2="339.11" stroke="#0f4a86" stroke-width="0.95"/>
<line x1="191.42" y1="341.48" x2="191.42" y2="344.38" stroke="#0f4a86" stroke-width="0.95"/>
<line x1="229.15" y1="344.02" x2="229.15" y2="346.92" stroke="#0f4a86" stroke-width="0.95"/>
<line x1="173.35" y1="341.06" x2="173.35" y2="343.96" stroke="#0f4a86" stroke-width="0.95"/>
<line x1="208.63" y1="342.01" x2="208.63" y2="344.91" stroke="#0f4a86" stroke-width="0.95"/>
<line x1="197.33" y1="341.71" x2="197.33" y2="344.61" stroke="#0f4a86" stroke-width="0.95"/>
<line x1="99.06" y1="332.94" x2="99.06" y2="335.84" stroke="#0f4a86" stroke-width="0.95"/>
<line x1="211.38" y1="342.17" x2="211.38" y2="345.07" stroke="#0f4a86" stroke-width="0.95"/>
<line x1="184.34" y1="341.22" x2="184.34" y2="344.12" stroke="#0f4a86" stroke-width="0.95"/>
<line x1="137.45" y1="339.04" x2="137.45" y2="341.94" stroke="#0f4a86" stroke-width="0.95"/>
<line x1="93.72" y1="330.22" x2="93.72" y2="333.12" stroke="#0f4a86" stroke-width="0.95"/>
<line x1="228.74" y1="343.99" x2="228.74" y2="346.89" stroke="#0f4a86" stroke-width="0.95"/>
<line x1="165.19" y1="340.76" x2="165.19" y2="343.66" stroke="#0f4a86" stroke-width="0.95"/>
<line x1="205.01" y1="341.92" x2="205.01" y2="344.82" stroke="#0f4a86" stroke-width="0.95"/>
<line x1="230.89" y1="344.18" x2="230.89" y2="347.08" stroke="#0f4a86" stroke-width="0.95"/>
<line x1="204.25" y1="341.90" x2="204.25" y2="344.80" stroke="#0f4a86" stroke-width="0.95"/>
<line x1="237.73" y1="344.62" x2="237.73" y2="347.52" stroke="#0f4a86" stroke-width="0.95"/>
<line x1="152.61" y1="340.28" x2="152.61" y2="343.18" stroke="#0f4a86" stroke-width="0.95"/>
<line x1="218.29" y1="342.79" x2="218.29" y2="345.69" stroke="#0f4a86" stroke-width="0.95"/>
<line x1="160.64" y1="340.59" x2="160.64" y2="343.49" stroke="#0f4a86" stroke-width="0.95"/>
<line x1="240.08" y1="344.68" x2="240.08" y2="347.58" stroke="#0f4a86" stroke-width="0.95"/>
<line x1="230.90" y1="344.18" x2="230.90" y2="347.08" stroke="#0f4a86" stroke-width="0.95"/>
<line x1="104.47" y1="334.62" x2="104.47" y2="337.52" stroke="#0f4a86" stroke-width="0.95"/>
<line x1="110.70" y1="335.89" x2="110.70" y2="338.79" stroke="#0f4a86" stroke-width="0.95"/>
<line x1="123.81" y1="337.63" x2="123.81" y2="340.53" stroke="#0f4a86" stroke-width="0.95"/>
<line x1="244.91" y1="344.81" x2="244.91" y2="347.71" stroke="#0f4a86" stroke-width="0.95"/>
<line x1="159.27" y1="340.53" x2="159.27" y2="343.43" stroke="#0f4a86" stroke-width="0.95"/>
<line x1="190.09" y1="341.42" x2="190.09" y2="344.32" stroke="#0f4a86" stroke-width="0.95"/>
<line x1="137.41" y1="339.04" x2="137.41" y2="341.94" stroke="#0f4a86" stroke-width="0.95"/>
<line x1="170.77" y1="340.98" x2="170.77" y2="343.88" stroke="#0f4a86" stroke-width="0.95"/>
<line x1="151.13" y1="340.18" x2="151.13" y2="343.08" stroke="#0f4a86" stroke-width="0.95"/>
<line x1="145.48" y1="339.69" x2="145.48" y2="342.59" stroke="#0f4a86" stroke-width="0.95"/>
<line x1="183.36" y1="341.20" x2="183.36" y2="344.10" stroke="#0f4a86" stroke-width="0.95"/>
<line x1="183.23" y1="341.20" x2="183.23" y2="344.10" stroke="#0f4a86" stroke-width="0.95"/>
<line x1="235.00" y1="344.55" x2="235.00" y2="347.45" stroke="#0f4a86" stroke-width="0.95"/>
<line x1="199.04" y1="341.76" x2="199.04" y2="344.66" stroke="#0f4a86" stroke-width="0.95"/>
<line x1="239.00" y1="344.65" x2="239.00" y2="347.55" stroke="#0f4a86" stroke-width="0.95"/>
<line x1="227.27" y1="343.85" x2="227.27" y2="346.75" stroke="#0f4a86" stroke-width="0.95"/>
<line x1="249.04" y1="344.91" x2="249.04" y2="347.81" stroke="#0f4a86" stroke-width="0.95"/>
<line x1="197.31" y1="341.71" x2="197.31" y2="344.61" stroke="#0f4a86" stroke-width="0.95"/>
<line x1="115.09" y1="336.48" x2="115.09" y2="339.38" stroke="#0f4a86" stroke-width="0.95"/>
<line x1="227.95" y1="343.92" x2="227.95" y2="346.82" stroke="#0f4a86" stroke-width="0.95"/>
<line x1="244.78" y1="344.80" x2="244.78" y2="347.70" stroke="#0f4a86" stroke-width="0.95"/>
<line x1="235.08" y1="344.55" x2="235.08" y2="347.45" stroke="#0f4a86" stroke-width="0.95"/>
<line x1="180.78" y1="341.17" x2="180.78" y2="344.07" stroke="#0f4a86" stroke-width="0.95"/>
<line x1="204.20" y1="341.90" x2="204.20" y2="344.80" stroke="#0f4a86" stroke-width="0.95"/>
<line x1="122.86" y1="337.51" x2="122.86" y2="340.41" stroke="#0f4a86" stroke-width="0.95"/>
<line x1="223.25" y1="343.43" x2="223.25" y2="346.33" stroke="#0f4a86" stroke-width="0.95"/>
<line x1="181.50" y1="341.18" x2="181.50" y2="344.08" stroke="#0f4a86" stroke-width="0.95"/>
<line x1="134.81" y1="338.84" x2="134.81" y2="341.74" stroke="#0f4a86" stroke-width="0.95"/>
<line x1="98.97" y1="332.90" x2="98.97" y2="335.80" stroke="#0f4a86" stroke-width="0.95"/>
<line x1="226.87" y1="343.82" x2="226.87" y2="346.72" stroke="#0f4a86" stroke-width="0.95"/>
<line x1="248.85" y1="344.91" x2="248.85" y2="347.81" stroke="#0f4a86" stroke-width="0.95"/>
<line x1="103.02" y1="334.29" x2="103.02" y2="337.19" stroke="#0f4a86" stroke-width="0.95"/>
<line x1="218.24" y1="342.78" x2="218.24" y2="345.68" stroke="#0f4a86" stroke-width="0.95"/>
<line x1="155.11" y1="340.37" x2="155.11" y2="343.27" stroke="#0f4a86" stroke-width="0.95"/>
<line x1="113.09" y1="336.21" x2="113.09" y2="339.11" stroke="#0f4a86" stroke-width="0.95"/>
<line x1="136.25" y1="338.95" x2="136.25" y2="341.85" stroke="#0f4a86" stroke-width="0.95"/>
<line x1="213.09" y1="342.32" x2="213.09" y2="345.22" stroke="#0f4a86" stroke-width="0.95"/>
<line x1="229.91" y1="344.09" x2="229.91" y2="346.99" stroke="#0f4a86" stroke-width="0.95"/>
<line x1="95.85" y1="331.49" x2="95.85" y2="334.39" stroke="#0f4a86" stroke-width="0.95"/>
<line x1="188.13" y1="341.33" x2="188.13" y2="344.23" stroke="#0f4a86" stroke-width="0.95"/>
<line x1="95.97" y1="331.55" x2="95.97" y2="334.45" stroke="#0f4a86" stroke-width="0.95"/>
<line x1="204.94" y1="341.92" x2="204.94" y2="344.82" stroke="#0f4a86" stroke-width="0.95"/>
<line x1="142.25" y1="339.41" x2="142.25" y2="342.31" stroke="#0f4a86" stroke-width="0.95"/>
<line x1="231.23" y1="344.21" x2="231.23" y2="347.11" stroke="#0f4a86" stroke-width="0.95"/>
<line x1="247.37" y1="344.87" x2="247.37" y2="347.77" stroke="#0f4a86" stroke-width="0.95"/>
<line x1="170.48" y1="340.96" x2="170.48" y2="343.86" stroke="#0f4a86" stroke-width="0.95"/>
<line x1="250.26" y1="344.94" x2="250.26" y2="347.84" stroke="#0f4a86" stroke-width="0.95"/>
<line x1="138.80" y1="339.14" x2="138.80" y2="342.04" stroke="#0f4a86" stroke-width="0.95"/>
<line x1="101.15" y1="333.69" x2="101.15" y2="336.59" stroke="#0f4a86" stroke-width="0.95"/>
<line x1="185.74" y1="341.24" x2="185.74" y2="344.14" stroke="#0f4a86" stroke-width="0.95"/>
<line x1="93.78" y1="330.27" x2="93.78" y2="333.17" stroke="#0f4a86" stroke-width="0.95"/>
<line x1="120.64" y1="337.23" x2="120.64" y2="340.13" stroke="#0f4a86" stroke-width="0.95"/>
<line x1="154.70" y1="340.36" x2="154.70" y2="343.26" stroke="#0f4a86" stroke-width="0.95"/>
<line x1="187.47" y1="341.30" x2="187.47" y2="344.20" stroke="#0f4a86" stroke-width="0.95"/>
<line x1="113.97" y1="336.33" x2="113.97" y2="339.23" stroke="#0f4a86" stroke-width="0.95"/>
<line x1="95.57" y1="331.33" x2="95.57" y2="334.23" stroke="#0f4a86" stroke-width="0.95"/>
<line x1="229.11" y1="344.02" x2="229.11" y2="346.92" stroke="#0f4a86" stroke-width="0.95"/>
<line x1="139.48" y1="339.19" x2="139.48" y2="342.09" stroke="#0f4a86" stroke-width="0.95"/>
<line x1="243.81" y1="344.78" x2="243.81" y2="347.68" stroke="#0f4a86" stroke-width="0.95"/>
<line x1="233.78" y1="344.44" x2="233.78" y2="347.34" stroke="#0f4a86" stroke-width="0.95"/>
<line x1="149.83" y1="340.07" x2="149.83" y2="342.97" stroke="#0f4a86" stroke-width="0.95"/>
<line x1="163.19" y1="340.68" x2="163.19" y2="343.58" stroke="#0f4a86" stroke-width="0.95"/>
<line x1="172.85" y1="341.05" x2="172.85" y2="343.95" stroke="#0f4a86" stroke-width="0.95"/>
<line x1="192.88" y1="341.55" x2="192.88" y2="344.45" stroke="#0f4a86" stroke-width="0.95"/>
<line x1="185.08" y1="341.23" x2="185.08" y2="344.13" stroke="#0f4a86" stroke-width="0.95"/>
<line x1="179.19" y1="341.14" x2="179.19" y2="344.04" stroke="#0f4a86" stroke-width="0.95"/>
<line x1="189.04" y1="341.37" x2="189.04" y2="344.27" stroke="#0f4a86" stroke-width="0.95"/>
<line x1="240.89" y1="344.70" x2="240.89" y2="347.60" stroke="#0f4a86" stroke-width="0.95"/>
<line x1="170.74" y1="340.97" x2="170.74" y2="343.87" stroke="#0f4a86" stroke-width="0.95"/>
<line x1="158.47" y1="340.50" x2="158.47" y2="343.40" stroke="#0f4a86" stroke-width="0.95"/>
<line x1="205.25" y1="341.92" x2="205.25" y2="344.82" stroke="#0f4a86" stroke-width="0.95"/>
<line x1="127.15" y1="338.05" x2="127.15" y2="340.95" stroke="#0f4a86" stroke-width="0.95"/>
<line x1="137.42" y1="339.04" x2="137.42" y2="341.94" stroke="#0f4a86" stroke-width="0.95"/>
<line x1="246.91" y1="344.86" x2="246.91" y2="347.76" stroke="#0f4a86" stroke-width="0.95"/>
<line x1="173.02" y1="341.05" x2="173.02" y2="343.95" stroke="#0f4a86" stroke-width="0.95"/>
<line x1="177.44" y1="341.12" x2="177.44" y2="344.02" stroke="#0f4a86" stroke-width="0.95"/>
<line x1="90.55" y1="327.66" x2="90.55" y2="330.56" stroke="#0f4a86" stroke-width="0.95"/>
<line x1="155.88" y1="340.40" x2="155.88" y2="343.30" stroke="#0f4a86" stroke-width="0.95"/>
<line x1="182.54" y1="341.19" x2="182.54" y2="344.09" stroke="#0f4a86" stroke-width="0.95"/>
<line x1="91.94" y1="328.79" x2="91.94" y2="331.69" stroke="#0f4a86" stroke-width="0.95"/>
<line x1="188.34" y1="341.34" x2="188.34" y2="344.24" stroke="#0f4a86" stroke-width="0.95"/>
<line x1="190.99" y1="341.46" x2="190.99" y2="344.36" stroke="#0f4a86" stroke-width="0.95"/>
<line x1="98.42" y1="332.66" x2="98.42" y2="335.56" stroke="#0f4a86" stroke-width="0.95"/>
<line x1="190.20" y1="341.42" x2="190.20" y2="344.32" stroke="#0f4a86" stroke-width="0.95"/>
<line x1="164.14" y1="340.72" x2="164.14" y2="343.62" stroke="#0f4a86" stroke-width="0.95"/>
<line x1="198.61" y1="341.75" x2="198.61" y2="344.65" stroke="#0f4a86" stroke-width="0.95"/>
<line x1="145.75" y1="339.72" x2="145.75" y2="342.62" stroke="#0f4a86" stroke-width="0.95"/>
<line x1="203.08" y1="341.87" x2="203.08" y2="344.77" stroke="#0f4a86" stroke-width="0.95"/>
<line x1="208.11" y1="342.00" x2="208.11" y2="344.90" stroke="#0f4a86" stroke-width="0.95"/>
<line x1="92.29" y1="329.07" x2="92.29" y2="331.97" stroke="#0f4a86" stroke-width="0.95"/>
<line x1="98.50" y1="332.70" x2="98.50" y2="335.60" stroke="#0f4a86" stroke-width="0.95"/>
<line x1="198.08" y1="341.73" x2="198.08" y2="344.63" stroke="#0f4a86" stroke-width="0.95"/>
<line x1="244.56" y1="344.80" x2="244.56" y2="347.70" stroke="#0f4a86" stroke-width="0.95"/>
<line x1="129.33" y1="338.33" x2="129.33" y2="341.23" stroke="#0f4a86" stroke-width="0.95"/>
<line x1="162.53" y1="340.66" x2="162.53" y2="343.56" stroke="#0f4a86" stroke-width="0.95"/>
<line x1="184.59" y1="341.22" x2="184.59" y2="344.12" stroke="#0f4a86" stroke-width="0.95"/>
<line x1="140.48" y1="339.27" x2="140.48" y2="342.17" stroke="#0f4a86" stroke-width="0.95"/>
<line x1="147.59" y1="339.88" x2="147.59" y2="342.78" stroke="#0f4a86" stroke-width="0.95"/>
<line x1="139.29" y1="339.18" x2="139.29" y2="342.08" stroke="#0f4a86" stroke-width="0.95"/>
<line x1="148.43" y1="339.95" x2="148.43" y2="342.85" stroke="#0f4a86" stroke-width="0.95"/>
<line x1="185.07" y1="341.23" x2="185.07" y2="344.13" stroke="#0f4a86" stroke-width="0.95"/>
<line x1="137.31" y1="339.03" x2="137.31" y2="341.93" stroke="#0f4a86" stroke-width="0.95"/>
<line x1="149.72" y1="340.06" x2="149.72" y2="342.96" stroke="#0f4a86" stroke-width="0.95"/>
<line x1="213.65" y1="342.37" x2="213.65" y2="345.27" stroke="#0f4a86" stroke-width="0.95"/>
<line x1="93.06" y1="329.69" x2="93.06" y2="332.59" stroke="#0f4a86" stroke-width="0.95"/>
<line x1="180.81" y1="341.17" x2="180.81" y2="344.07" stroke="#0f4a86" stroke-width="0.95"/>
<line x1="207.65" y1="341.99" x2="207.65" y2="344.89" stroke="#0f4a86" stroke-width="0.95"/>
<line x1="138.86" y1="339.15" x2="138.86" y2="342.05" stroke="#0f4a86" stroke-width="0.95"/>
<line x1="124.71" y1="337.74" x2="124.71" y2="340.64" stroke="#0f4a86" stroke-width="0.95"/>
<line x1="218.76" y1="342.85" x2="218.76" y2="345.75" stroke="#0f4a86" stroke-width="0.95"/>
<line x1="127.32" y1="338.07" x2="127.32" y2="340.97" stroke="#0f4a86" stroke-width="0.95"/>
<line x1="119.02" y1="337.01" x2="119.02" y2="339.91" stroke="#0f4a86" stroke-width="0.95"/>
<line x1="159.12" y1="340.53" x2="159.12" y2="343.43" stroke="#0f4a86" stroke-width="0.95"/>
<polyline points="342.10,297.20 344.20,297.20 344.20,341.70 345.80,341.70 345.80,386.20 513.00,386.20 513.00,386.20" fill="none" stroke="#40b856" stroke-width="1.1" stroke-linejoin="miter"/>
<line x1="354.30" y1="384.80" x2="354.30" y2="387.60" stroke="#40b856" stroke-width="0.9"/>
<polyline points="342.10,297.20 343.50,297.20 343.50,309.50 346.00,309.50 346.00,316.30 348.80,316.30 348.80,321.70 350.90,321.70 350.90,325.90 373.80,325.90 373.80,329.20 383.00,329.20 383.00,333.00 513.00,333.00 513.00,333.00" fill="none" stroke="#d4385c" stroke-width="1.2" stroke-linejoin="miter"/>
<line x1="350.90" y1="320.30" x2="350.90" y2="323.10" stroke="#d4385c" stroke-width="0.9"/>
<line x1="359.70" y1="324.50" x2="359.70" y2="327.30" stroke="#d4385c" stroke-width="0.9"/>
<line x1="374.70" y1="327.80" x2="374.70" y2="330.60" stroke="#d4385c" stroke-width="0.9"/>
<line x1="376.20" y1="327.80" x2="376.20" y2="330.60" stroke="#d4385c" stroke-width="0.9"/>
<line x1="387.80" y1="331.60" x2="387.80" y2="334.40" stroke="#d4385c" stroke-width="0.9"/>
<line x1="391.90" y1="331.60" x2="391.90" y2="334.40" stroke="#d4385c" stroke-width="0.9"/>
<line x1="394.50" y1="331.60" x2="394.50" y2="334.40" stroke="#d4385c" stroke-width="0.9"/>
<line x1="403.75" y1="331.60" x2="403.75" y2="334.40" stroke="#d4385c" stroke-width="0.9"/>
<line x1="407.50" y1="331.60" x2="407.50" y2="334.40" stroke="#d4385c" stroke-width="0.9"/>
<line x1="420.00" y1="331.60" x2="420.00" y2="334.40" stroke="#d4385c" stroke-width="0.9"/>
<line x1="433.75" y1="331.60" x2="433.75" y2="334.40" stroke="#d4385c" stroke-width="0.9"/>
<line x1="436.25" y1="331.60" x2="436.25" y2="334.40" stroke="#d4385c" stroke-width="0.9"/>
<line x1="440.00" y1="331.60" x2="440.00" y2="334.40" stroke="#d4385c" stroke-width="0.9"/>
<line x1="450.75" y1="331.60" x2="450.75" y2="334.40" stroke="#d4385c" stroke-width="0.9"/>
<line x1="463.25" y1="331.60" x2="463.25" y2="334.40" stroke="#d4385c" stroke-width="0.9"/>
<line x1="507.50" y1="331.60" x2="507.50" y2="334.40" stroke="#d4385c" stroke-width="0.9"/>
<polyline points="342.10,297.20 342.50,304.10 343.40,310.40 344.60,314.20 345.50,318.40 346.70,321.70 348.40,324.50 350.10,326.70 351.80,328.90 353.40,330.60 356.00,332.40 358.50,333.70 361.80,334.90 365.20,335.90 369.40,336.60 376.10,338.10 384.20,339.20 396.80,340.30 415.00,341.50 440.00,342.70 465.00,343.20 477.50,343.90 490.00,345.10 512.50,346.00" fill="none" stroke="#1d5895" stroke-width="1.0" stroke-linejoin="miter"/>
<polyline points="351.80,328.90 353.40,330.60 356.00,332.40 358.50,333.70 361.80,334.90 365.20,335.90 369.40,336.60 376.10,338.10 384.20,339.20 396.80,340.30 415.00,341.50 440.00,342.70 465.00,343.20 477.50,343.90 490.00,345.10 512.50,346.00" fill="none" stroke="#1d5895" stroke-width="1.3" stroke-linejoin="miter"/>
<line x1="389.20" y1="338.19" x2="389.20" y2="341.09" stroke="#0f4a86" stroke-width="0.95"/>
<line x1="367.75" y1="334.88" x2="367.75" y2="337.78" stroke="#0f4a86" stroke-width="0.95"/>
<line x1="415.02" y1="340.05" x2="415.02" y2="342.95" stroke="#0f4a86" stroke-width="0.95"/>
<line x1="376.11" y1="336.65" x2="376.11" y2="339.55" stroke="#0f4a86" stroke-width="0.95"/>
<line x1="361.84" y1="333.46" x2="361.84" y2="336.36" stroke="#0f4a86" stroke-width="0.95"/>
<line x1="415.92" y1="340.09" x2="415.92" y2="342.99" stroke="#0f4a86" stroke-width="0.95"/>
<line x1="499.26" y1="344.02" x2="499.26" y2="346.92" stroke="#0f4a86" stroke-width="0.95"/>
<line x1="480.29" y1="342.72" x2="480.29" y2="345.62" stroke="#0f4a86" stroke-width="0.95"/>
<line x1="474.60" y1="342.29" x2="474.60" y2="345.19" stroke="#0f4a86" stroke-width="0.95"/>
<line x1="386.92" y1="337.99" x2="386.92" y2="340.89" stroke="#0f4a86" stroke-width="0.95"/>
<line x1="437.72" y1="341.14" x2="437.72" y2="344.04" stroke="#0f4a86" stroke-width="0.95"/>
<line x1="395.76" y1="338.76" x2="395.76" y2="341.66" stroke="#0f4a86" stroke-width="0.95"/>
<line x1="378.97" y1="337.04" x2="378.97" y2="339.94" stroke="#0f4a86" stroke-width="0.95"/>
<line x1="368.24" y1="334.96" x2="368.24" y2="337.86" stroke="#0f4a86" stroke-width="0.95"/>
<line x1="385.70" y1="337.88" x2="385.70" y2="340.78" stroke="#0f4a86" stroke-width="0.95"/>
<line x1="500.79" y1="344.08" x2="500.79" y2="346.98" stroke="#0f4a86" stroke-width="0.95"/>
<line x1="484.89" y1="343.16" x2="484.89" y2="346.06" stroke="#0f4a86" stroke-width="0.95"/>
<line x1="481.29" y1="342.81" x2="481.29" y2="345.71" stroke="#0f4a86" stroke-width="0.95"/>
<line x1="480.29" y1="342.72" x2="480.29" y2="345.62" stroke="#0f4a86" stroke-width="0.95"/>
<line x1="382.32" y1="337.49" x2="382.32" y2="340.39" stroke="#0f4a86" stroke-width="0.95"/>
<line x1="401.11" y1="339.13" x2="401.11" y2="342.03" stroke="#0f4a86" stroke-width="0.95"/>
<line x1="452.29" y1="341.50" x2="452.29" y2="344.40" stroke="#0f4a86" stroke-width="0.95"/>
<line x1="469.23" y1="341.99" x2="469.23" y2="344.89" stroke="#0f4a86" stroke-width="0.95"/>
<line x1="489.04" y1="343.56" x2="489.04" y2="346.46" stroke="#0f4a86" stroke-width="0.95"/>
<line x1="493.14" y1="343.78" x2="493.14" y2="346.68" stroke="#0f4a86" stroke-width="0.95"/>
<line x1="365.10" y1="334.42" x2="365.10" y2="337.32" stroke="#0f4a86" stroke-width="0.95"/>
<line x1="448.88" y1="341.43" x2="448.88" y2="344.33" stroke="#0f4a86" stroke-width="0.95"/>
<line x1="459.51" y1="341.64" x2="459.51" y2="344.54" stroke="#0f4a86" stroke-width="0.95"/>
<line x1="432.76" y1="340.90" x2="432.76" y2="343.80" stroke="#0f4a86" stroke-width="0.95"/>
<line x1="379.80" y1="337.15" x2="379.80" y2="340.05" stroke="#0f4a86" stroke-width="0.95"/>
<line x1="427.54" y1="340.65" x2="427.54" y2="343.55" stroke="#0f4a86" stroke-width="0.95"/>
<line x1="365.52" y1="334.50" x2="365.52" y2="337.40" stroke="#0f4a86" stroke-width="0.95"/>
<line x1="501.94" y1="344.13" x2="501.94" y2="347.03" stroke="#0f4a86" stroke-width="0.95"/>
<line x1="490.79" y1="343.68" x2="490.79" y2="346.58" stroke="#0f4a86" stroke-width="0.95"/>
<line x1="439.49" y1="341.23" x2="439.49" y2="344.13" stroke="#0f4a86" stroke-width="0.95"/>
<line x1="399.56" y1="339.03" x2="399.56" y2="341.93" stroke="#0f4a86" stroke-width="0.95"/>
<line x1="497.79" y1="343.96" x2="497.79" y2="346.86" stroke="#0f4a86" stroke-width="0.95"/>
<line x1="443.48" y1="341.32" x2="443.48" y2="344.22" stroke="#0f4a86" stroke-width="0.95"/>
<line x1="493.51" y1="343.79" x2="493.51" y2="346.69" stroke="#0f4a86" stroke-width="0.95"/>
<line x1="487.97" y1="343.46" x2="487.97" y2="346.36" stroke="#0f4a86" stroke-width="0.95"/>
<line x1="433.15" y1="340.92" x2="433.15" y2="343.82" stroke="#0f4a86" stroke-width="0.95"/>
<line x1="417.91" y1="340.19" x2="417.91" y2="343.09" stroke="#0f4a86" stroke-width="0.95"/>
<line x1="447.76" y1="341.41" x2="447.76" y2="344.31" stroke="#0f4a86" stroke-width="0.95"/>
<line x1="420.67" y1="340.32" x2="420.67" y2="343.22" stroke="#0f4a86" stroke-width="0.95"/>
<line x1="377.14" y1="336.79" x2="377.14" y2="339.69" stroke="#0f4a86" stroke-width="0.95"/>
<line x1="400.35" y1="339.08" x2="400.35" y2="341.98" stroke="#0f4a86" stroke-width="0.95"/>
<line x1="482.25" y1="342.91" x2="482.25" y2="345.81" stroke="#0f4a86" stroke-width="0.95"/>
<line x1="358.08" y1="332.03" x2="358.08" y2="334.93" stroke="#0f4a86" stroke-width="0.95"/>
<line x1="358.58" y1="332.28" x2="358.58" y2="335.18" stroke="#0f4a86" stroke-width="0.95"/>
<line x1="452.19" y1="341.49" x2="452.19" y2="344.39" stroke="#0f4a86" stroke-width="0.95"/>
<line x1="396.36" y1="338.81" x2="396.36" y2="341.71" stroke="#0f4a86" stroke-width="0.95"/>
<line x1="437.39" y1="341.12" x2="437.39" y2="344.02" stroke="#0f4a86" stroke-width="0.95"/>
<line x1="427.16" y1="340.63" x2="427.16" y2="343.53" stroke="#0f4a86" stroke-width="0.95"/>
<line x1="406.43" y1="339.49" x2="406.43" y2="342.39" stroke="#0f4a86" stroke-width="0.95"/>
<line x1="512.06" y1="344.53" x2="512.06" y2="347.43" stroke="#0f4a86" stroke-width="0.95"/>
<line x1="382.67" y1="337.54" x2="382.67" y2="340.44" stroke="#0f4a86" stroke-width="0.95"/>
<line x1="417.73" y1="340.18" x2="417.73" y2="343.08" stroke="#0f4a86" stroke-width="0.95"/>
<line x1="383.81" y1="337.70" x2="383.81" y2="340.60" stroke="#0f4a86" stroke-width="0.95"/>
<line x1="453.21" y1="341.51" x2="453.21" y2="344.41" stroke="#0f4a86" stroke-width="0.95"/>
<line x1="395.70" y1="338.75" x2="395.70" y2="341.65" stroke="#0f4a86" stroke-width="0.95"/>
<line x1="408.53" y1="339.62" x2="408.53" y2="342.52" stroke="#0f4a86" stroke-width="0.95"/>
<line x1="471.66" y1="342.12" x2="471.66" y2="345.02" stroke="#0f4a86" stroke-width="0.95"/>
<line x1="402.86" y1="339.25" x2="402.86" y2="342.15" stroke="#0f4a86" stroke-width="0.95"/>
<line x1="441.25" y1="341.27" x2="441.25" y2="344.17" stroke="#0f4a86" stroke-width="0.95"/>
<line x1="497.06" y1="343.93" x2="497.06" y2="346.83" stroke="#0f4a86" stroke-width="0.95"/>
<line x1="367.40" y1="334.82" x2="367.40" y2="337.72" stroke="#0f4a86" stroke-width="0.95"/>
<line x1="361.04" y1="333.18" x2="361.04" y2="336.08" stroke="#0f4a86" stroke-width="0.95"/>
<line x1="388.04" y1="338.09" x2="388.04" y2="340.99" stroke="#0f4a86" stroke-width="0.95"/>
<line x1="474.60" y1="342.29" x2="474.60" y2="345.19" stroke="#0f4a86" stroke-width="0.95"/>
<line x1="450.43" y1="341.46" x2="450.43" y2="344.36" stroke="#0f4a86" stroke-width="0.95"/>
<line x1="389.42" y1="338.21" x2="389.42" y2="341.11" stroke="#0f4a86" stroke-width="0.95"/>
<line x1="404.53" y1="339.36" x2="404.53" y2="342.26" stroke="#0f4a86" stroke-width="0.95"/>
<line x1="379.75" y1="337.15" x2="379.75" y2="340.05" stroke="#0f4a86" stroke-width="0.95"/>
<line x1="425.19" y1="340.54" x2="425.19" y2="343.44" stroke="#0f4a86" stroke-width="0.95"/>
<line x1="358.01" y1="332.00" x2="358.01" y2="334.90" stroke="#0f4a86" stroke-width="0.95"/>
<line x1="463.64" y1="341.72" x2="463.64" y2="344.62" stroke="#0f4a86" stroke-width="0.95"/>
<line x1="495.70" y1="343.88" x2="495.70" y2="346.78" stroke="#0f4a86" stroke-width="0.95"/>
<line x1="505.19" y1="344.26" x2="505.19" y2="347.16" stroke="#0f4a86" stroke-width="0.95"/>
<line x1="469.71" y1="342.01" x2="469.71" y2="344.91" stroke="#0f4a86" stroke-width="0.95"/>
<line x1="506.02" y1="344.29" x2="506.02" y2="347.19" stroke="#0f4a86" stroke-width="0.95"/>
<line x1="354.04" y1="329.59" x2="354.04" y2="332.49" stroke="#0f4a86" stroke-width="0.95"/>
<line x1="397.74" y1="338.91" x2="397.74" y2="341.81" stroke="#0f4a86" stroke-width="0.95"/>
<line x1="507.01" y1="344.33" x2="507.01" y2="347.23" stroke="#0f4a86" stroke-width="0.95"/>
<line x1="476.22" y1="342.38" x2="476.22" y2="345.28" stroke="#0f4a86" stroke-width="0.95"/>
<line x1="417.34" y1="340.16" x2="417.34" y2="343.06" stroke="#0f4a86" stroke-width="0.95"/>
<line x1="503.35" y1="344.18" x2="503.35" y2="347.08" stroke="#0f4a86" stroke-width="0.95"/>
<line x1="451.25" y1="341.48" x2="451.25" y2="344.38" stroke="#0f4a86" stroke-width="0.95"/>
<line x1="483.11" y1="342.99" x2="483.11" y2="345.89" stroke="#0f4a86" stroke-width="0.95"/>
<line x1="398.46" y1="338.96" x2="398.46" y2="341.86" stroke="#0f4a86" stroke-width="0.95"/>
<line x1="381.99" y1="337.45" x2="381.99" y2="340.35" stroke="#0f4a86" stroke-width="0.95"/>
<line x1="422.78" y1="340.42" x2="422.78" y2="343.32" stroke="#0f4a86" stroke-width="0.95"/>
<line x1="373.12" y1="335.98" x2="373.12" y2="338.88" stroke="#0f4a86" stroke-width="0.95"/>
<line x1="412.70" y1="339.90" x2="412.70" y2="342.80" stroke="#0f4a86" stroke-width="0.95"/>
<line x1="506.34" y1="344.30" x2="506.34" y2="347.20" stroke="#0f4a86" stroke-width="0.95"/>
<line x1="404.57" y1="339.36" x2="404.57" y2="342.26" stroke="#0f4a86" stroke-width="0.95"/>
<line x1="352.62" y1="328.32" x2="352.62" y2="331.22" stroke="#0f4a86" stroke-width="0.95"/>
<line x1="358.33" y1="332.16" x2="358.33" y2="335.06" stroke="#0f4a86" stroke-width="0.95"/>
<line x1="378.47" y1="336.97" x2="378.47" y2="339.87" stroke="#0f4a86" stroke-width="0.95"/>
<line x1="477.60" y1="342.46" x2="477.60" y2="345.36" stroke="#0f4a86" stroke-width="0.95"/>
<line x1="409.64" y1="339.70" x2="409.64" y2="342.60" stroke="#0f4a86" stroke-width="0.95"/>
<line x1="397.96" y1="338.93" x2="397.96" y2="341.83" stroke="#0f4a86" stroke-width="0.95"/>
<line x1="366.77" y1="334.71" x2="366.77" y2="337.61" stroke="#0f4a86" stroke-width="0.95"/>
<line x1="509.55" y1="344.43" x2="509.55" y2="347.33" stroke="#0f4a86" stroke-width="0.95"/>
<line x1="419.53" y1="340.27" x2="419.53" y2="343.17" stroke="#0f4a86" stroke-width="0.95"/>
<line x1="384.66" y1="337.79" x2="384.66" y2="340.69" stroke="#0f4a86" stroke-width="0.95"/>
<line x1="360.68" y1="333.04" x2="360.68" y2="335.94" stroke="#0f4a86" stroke-width="0.95"/>
<line x1="360.02" y1="332.80" x2="360.02" y2="335.70" stroke="#0f4a86" stroke-width="0.95"/>
<line x1="378.32" y1="336.95" x2="378.32" y2="339.85" stroke="#0f4a86" stroke-width="0.95"/>
<line x1="460.34" y1="341.66" x2="460.34" y2="344.56" stroke="#0f4a86" stroke-width="0.95"/>
<line x1="375.25" y1="336.46" x2="375.25" y2="339.36" stroke="#0f4a86" stroke-width="0.95"/>
<line x1="357.70" y1="331.83" x2="357.70" y2="334.73" stroke="#0f4a86" stroke-width="0.95"/>
<line x1="430.29" y1="340.78" x2="430.29" y2="343.68" stroke="#0f4a86" stroke-width="0.95"/>
<line x1="391.30" y1="338.37" x2="391.30" y2="341.27" stroke="#0f4a86" stroke-width="0.95"/>
<line x1="512.12" y1="344.53" x2="512.12" y2="347.43" stroke="#0f4a86" stroke-width="0.95"/>
<line x1="370.83" y1="335.47" x2="370.83" y2="338.37" stroke="#0f4a86" stroke-width="0.95"/>
<line x1="436.52" y1="341.08" x2="436.52" y2="343.98" stroke="#0f4a86" stroke-width="0.95"/>
<line x1="475.99" y1="342.37" x2="475.99" y2="345.27" stroke="#0f4a86" stroke-width="0.95"/>
<line x1="417.16" y1="340.15" x2="417.16" y2="343.05" stroke="#0f4a86" stroke-width="0.95"/>
<line x1="510.51" y1="344.47" x2="510.51" y2="347.37" stroke="#0f4a86" stroke-width="0.95"/>
<line x1="428.21" y1="340.68" x2="428.21" y2="343.58" stroke="#0f4a86" stroke-width="0.95"/>
<line x1="390.14" y1="338.27" x2="390.14" y2="341.17" stroke="#0f4a86" stroke-width="0.95"/>
<line x1="417.37" y1="340.16" x2="417.37" y2="343.06" stroke="#0f4a86" stroke-width="0.95"/>
<line x1="357.05" y1="331.50" x2="357.05" y2="334.40" stroke="#0f4a86" stroke-width="0.95"/>
<line x1="419.09" y1="340.25" x2="419.09" y2="343.15" stroke="#0f4a86" stroke-width="0.95"/>
<line x1="391.22" y1="338.36" x2="391.22" y2="341.26" stroke="#0f4a86" stroke-width="0.95"/>
<line x1="494.63" y1="343.84" x2="494.63" y2="346.74" stroke="#0f4a86" stroke-width="0.95"/>
<line x1="485.23" y1="343.19" x2="485.23" y2="346.09" stroke="#0f4a86" stroke-width="0.95"/>
<line x1="431.57" y1="340.85" x2="431.57" y2="343.75" stroke="#0f4a86" stroke-width="0.95"/>
<line x1="356.21" y1="331.06" x2="356.21" y2="333.96" stroke="#0f4a86" stroke-width="0.95"/>
<line x1="392.16" y1="338.44" x2="392.16" y2="341.34" stroke="#0f4a86" stroke-width="0.95"/>
<line x1="390.22" y1="338.28" x2="390.22" y2="341.18" stroke="#0f4a86" stroke-width="0.95"/>
<line x1="384.68" y1="337.79" x2="384.68" y2="340.69" stroke="#0f4a86" stroke-width="0.95"/>
<line x1="388.46" y1="338.12" x2="388.46" y2="341.02" stroke="#0f4a86" stroke-width="0.95"/>
<line x1="491.47" y1="343.71" x2="491.47" y2="346.61" stroke="#0f4a86" stroke-width="0.95"/>
<line x1="373.97" y1="336.17" x2="373.97" y2="339.07" stroke="#0f4a86" stroke-width="0.95"/>
<line x1="359.38" y1="332.57" x2="359.38" y2="335.47" stroke="#0f4a86" stroke-width="0.95"/>
<line x1="500.88" y1="344.09" x2="500.88" y2="346.99" stroke="#0f4a86" stroke-width="0.95"/>
<line x1="442.35" y1="341.30" x2="442.35" y2="344.20" stroke="#0f4a86" stroke-width="0.95"/>
<line x1="510.98" y1="344.49" x2="510.98" y2="347.39" stroke="#0f4a86" stroke-width="0.95"/>
<line x1="416.14" y1="340.10" x2="416.14" y2="343.00" stroke="#0f4a86" stroke-width="0.95"/>
<line x1="496.51" y1="343.91" x2="496.51" y2="346.81" stroke="#0f4a86" stroke-width="0.95"/>
<line x1="456.65" y1="341.58" x2="456.65" y2="344.48" stroke="#0f4a86" stroke-width="0.95"/>
<line x1="478.74" y1="342.57" x2="478.74" y2="345.47" stroke="#0f4a86" stroke-width="0.95"/>
<line x1="471.30" y1="342.10" x2="471.30" y2="345.00" stroke="#0f4a86" stroke-width="0.95"/>
<line x1="430.88" y1="340.81" x2="430.88" y2="343.71" stroke="#0f4a86" stroke-width="0.95"/>
<line x1="366.10" y1="334.60" x2="366.10" y2="337.50" stroke="#0f4a86" stroke-width="0.95"/>
<line x1="385.14" y1="337.83" x2="385.14" y2="340.73" stroke="#0f4a86" stroke-width="0.95"/>
<line x1="492.13" y1="343.74" x2="492.13" y2="346.64" stroke="#0f4a86" stroke-width="0.95"/>
<line x1="496.32" y1="343.90" x2="496.32" y2="346.80" stroke="#0f4a86" stroke-width="0.95"/>
<line x1="500.33" y1="344.06" x2="500.33" y2="346.96" stroke="#0f4a86" stroke-width="0.95"/>
<text x="212.10" y="68.60" font-size="8.1" textLength="36.4" lengthAdjust="spacingAndGlyphs" stroke="#231f20" stroke-width="0.28">No variant</text>
<text x="187.70" y="96.40" font-size="8.1" textLength="23.6" lengthAdjust="spacingAndGlyphs" stroke="#231f20" stroke-width="0.28">Carrier</text>
<text x="225.10" y="126.40" font-size="8.1" textLength="22.8" lengthAdjust="spacingAndGlyphs" stroke="#231f20" stroke-width="0.28">IBMFS</text>
<text x="483.80" y="48.00" font-size="8.1" textLength="23.7" lengthAdjust="spacingAndGlyphs" stroke="#231f20" stroke-width="0.28">Carrier</text>
<text x="471.30" y="67.50" font-size="8.1" textLength="36.2" lengthAdjust="spacingAndGlyphs" stroke="#231f20" stroke-width="0.28">No variant</text>
<text x="456.30" y="95.40" font-size="8.1" textLength="23.0" lengthAdjust="spacingAndGlyphs" stroke="#231f20" stroke-width="0.28">IBMFS</text>
<text x="192.50" y="338.00" font-size="8.1" textLength="24.5" lengthAdjust="spacingAndGlyphs" stroke="#231f20" stroke-width="0.28">Carrier</text>
<text x="214.50" y="355.00" font-size="8.1" textLength="36.8" lengthAdjust="spacingAndGlyphs" stroke="#231f20" stroke-width="0.28">No variant</text>
<text x="117.90" y="372.90" font-size="8.1" textLength="23.0" lengthAdjust="spacingAndGlyphs" stroke="#231f20" stroke-width="0.28">IBMFS</text>
<text x="484.00" y="327.50" font-size="8.1" textLength="23.5" lengthAdjust="spacingAndGlyphs" stroke="#231f20" stroke-width="0.28">Carrier</text>
<text x="471.50" y="357.00" font-size="8.1" textLength="36.0" lengthAdjust="spacingAndGlyphs" stroke="#231f20" stroke-width="0.28">No variant</text>
<text x="485.80" y="395.00" font-size="8.1" textLength="23.3" lengthAdjust="spacingAndGlyphs" stroke="#231f20" stroke-width="0.28">IBMFS</text>
</svg></body></html>
